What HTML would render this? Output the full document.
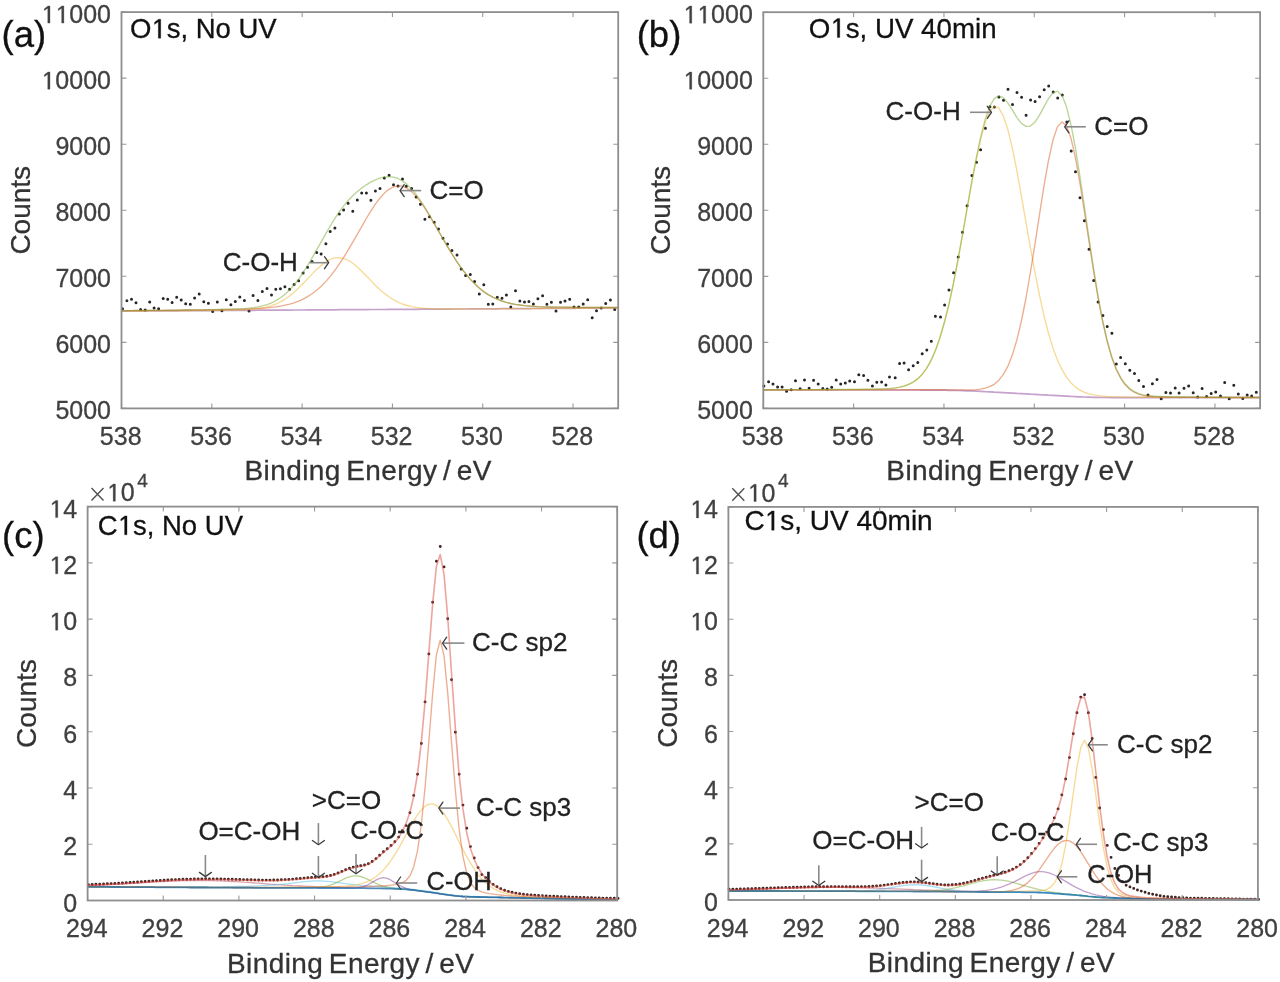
<!DOCTYPE html>
<html><head><meta charset="utf-8"><style>
html,body{margin:0;padding:0;background:#fff;}
svg{display:block;filter:blur(0.45px);}
text{font-family:"Liberation Sans",sans-serif;font-kerning:none;}
</style></head><body>
<svg width="1280" height="982" viewBox="0 0 1280 982" font-family="Liberation Sans, sans-serif">
<rect width="1280" height="982" fill="#fff"/>
<path d="M121.0 308.8a1.5 1.5 0 1 0 3.0 0a1.5 1.5 0 1 0 -3.0 0M125.4 300.7a1.5 1.5 0 1 0 3.0 0a1.5 1.5 0 1 0 -3.0 0M130.0 299.3a1.5 1.5 0 1 0 3.0 0a1.5 1.5 0 1 0 -3.0 0M134.5 302.8a1.5 1.5 0 1 0 3.0 0a1.5 1.5 0 1 0 -3.0 0M139.1 309.4a1.5 1.5 0 1 0 3.0 0a1.5 1.5 0 1 0 -3.0 0M143.7 309.9a1.5 1.5 0 1 0 3.0 0a1.5 1.5 0 1 0 -3.0 0M148.2 302.1a1.5 1.5 0 1 0 3.0 0a1.5 1.5 0 1 0 -3.0 0M152.6 308.1a1.5 1.5 0 1 0 3.0 0a1.5 1.5 0 1 0 -3.0 0M157.1 308.8a1.5 1.5 0 1 0 3.0 0a1.5 1.5 0 1 0 -3.0 0M161.7 298.6a1.5 1.5 0 1 0 3.0 0a1.5 1.5 0 1 0 -3.0 0M166.2 299.3a1.5 1.5 0 1 0 3.0 0a1.5 1.5 0 1 0 -3.0 0M170.6 302.5a1.5 1.5 0 1 0 3.0 0a1.5 1.5 0 1 0 -3.0 0M175.2 297.2a1.5 1.5 0 1 0 3.0 0a1.5 1.5 0 1 0 -3.0 0M179.7 300.0a1.5 1.5 0 1 0 3.0 0a1.5 1.5 0 1 0 -3.0 0M184.2 303.7a1.5 1.5 0 1 0 3.0 0a1.5 1.5 0 1 0 -3.0 0M188.8 304.3a1.5 1.5 0 1 0 3.0 0a1.5 1.5 0 1 0 -3.0 0M193.1 298.1a1.5 1.5 0 1 0 3.0 0a1.5 1.5 0 1 0 -3.0 0M197.7 293.9a1.5 1.5 0 1 0 3.0 0a1.5 1.5 0 1 0 -3.0 0M202.3 301.8a1.5 1.5 0 1 0 3.0 0a1.5 1.5 0 1 0 -3.0 0M206.9 303.3a1.5 1.5 0 1 0 3.0 0a1.5 1.5 0 1 0 -3.0 0M211.2 311.4a1.5 1.5 0 1 0 3.0 0a1.5 1.5 0 1 0 -3.0 0M215.8 302.0a1.5 1.5 0 1 0 3.0 0a1.5 1.5 0 1 0 -3.0 0M220.4 310.8a1.5 1.5 0 1 0 3.0 0a1.5 1.5 0 1 0 -3.0 0M224.8 299.8a1.5 1.5 0 1 0 3.0 0a1.5 1.5 0 1 0 -3.0 0M229.4 304.7a1.5 1.5 0 1 0 3.0 0a1.5 1.5 0 1 0 -3.0 0M233.8 301.5a1.5 1.5 0 1 0 3.0 0a1.5 1.5 0 1 0 -3.0 0M238.3 296.9a1.5 1.5 0 1 0 3.0 0a1.5 1.5 0 1 0 -3.0 0M242.9 300.5a1.5 1.5 0 1 0 3.0 0a1.5 1.5 0 1 0 -3.0 0M247.5 311.1a1.5 1.5 0 1 0 3.0 0a1.5 1.5 0 1 0 -3.0 0M251.6 295.6a1.5 1.5 0 1 0 3.0 0a1.5 1.5 0 1 0 -3.0 0M256.4 300.4a1.5 1.5 0 1 0 3.0 0a1.5 1.5 0 1 0 -3.0 0M260.8 291.5a1.5 1.5 0 1 0 3.0 0a1.5 1.5 0 1 0 -3.0 0M265.5 288.5a1.5 1.5 0 1 0 3.0 0a1.5 1.5 0 1 0 -3.0 0M270.0 295.0a1.5 1.5 0 1 0 3.0 0a1.5 1.5 0 1 0 -3.0 0M274.3 289.3a1.5 1.5 0 1 0 3.0 0a1.5 1.5 0 1 0 -3.0 0M278.9 288.7a1.5 1.5 0 1 0 3.0 0a1.5 1.5 0 1 0 -3.0 0M283.4 286.8a1.5 1.5 0 1 0 3.0 0a1.5 1.5 0 1 0 -3.0 0M288.1 289.3a1.5 1.5 0 1 0 3.0 0a1.5 1.5 0 1 0 -3.0 0M292.6 284.6a1.5 1.5 0 1 0 3.0 0a1.5 1.5 0 1 0 -3.0 0M297.1 280.7a1.5 1.5 0 1 0 3.0 0a1.5 1.5 0 1 0 -3.0 0M301.6 273.0a1.5 1.5 0 1 0 3.0 0a1.5 1.5 0 1 0 -3.0 0M306.0 267.3a1.5 1.5 0 1 0 3.0 0a1.5 1.5 0 1 0 -3.0 0M310.5 261.6a1.5 1.5 0 1 0 3.0 0a1.5 1.5 0 1 0 -3.0 0M315.2 252.6a1.5 1.5 0 1 0 3.0 0a1.5 1.5 0 1 0 -3.0 0M319.6 254.0a1.5 1.5 0 1 0 3.0 0a1.5 1.5 0 1 0 -3.0 0M324.4 243.7a1.5 1.5 0 1 0 3.0 0a1.5 1.5 0 1 0 -3.0 0M328.7 231.6a1.5 1.5 0 1 0 3.0 0a1.5 1.5 0 1 0 -3.0 0M333.4 227.9a1.5 1.5 0 1 0 3.0 0a1.5 1.5 0 1 0 -3.0 0M337.8 213.9a1.5 1.5 0 1 0 3.0 0a1.5 1.5 0 1 0 -3.0 0M342.1 210.0a1.5 1.5 0 1 0 3.0 0a1.5 1.5 0 1 0 -3.0 0M346.6 203.3a1.5 1.5 0 1 0 3.0 0a1.5 1.5 0 1 0 -3.0 0M351.3 211.2a1.5 1.5 0 1 0 3.0 0a1.5 1.5 0 1 0 -3.0 0M355.8 200.0a1.5 1.5 0 1 0 3.0 0a1.5 1.5 0 1 0 -3.0 0M360.2 193.1a1.5 1.5 0 1 0 3.0 0a1.5 1.5 0 1 0 -3.0 0M364.9 193.1a1.5 1.5 0 1 0 3.0 0a1.5 1.5 0 1 0 -3.0 0M369.4 200.3a1.5 1.5 0 1 0 3.0 0a1.5 1.5 0 1 0 -3.0 0M373.9 191.1a1.5 1.5 0 1 0 3.0 0a1.5 1.5 0 1 0 -3.0 0M378.5 188.6a1.5 1.5 0 1 0 3.0 0a1.5 1.5 0 1 0 -3.0 0M382.8 177.9a1.5 1.5 0 1 0 3.0 0a1.5 1.5 0 1 0 -3.0 0M387.6 175.2a1.5 1.5 0 1 0 3.0 0a1.5 1.5 0 1 0 -3.0 0M392.0 184.7a1.5 1.5 0 1 0 3.0 0a1.5 1.5 0 1 0 -3.0 0M396.5 186.0a1.5 1.5 0 1 0 3.0 0a1.5 1.5 0 1 0 -3.0 0M401.0 179.0a1.5 1.5 0 1 0 3.0 0a1.5 1.5 0 1 0 -3.0 0M404.8 186.3a1.5 1.5 0 1 0 3.0 0a1.5 1.5 0 1 0 -3.0 0M410.1 188.6a1.5 1.5 0 1 0 3.0 0a1.5 1.5 0 1 0 -3.0 0M414.6 197.1a1.5 1.5 0 1 0 3.0 0a1.5 1.5 0 1 0 -3.0 0M418.9 204.3a1.5 1.5 0 1 0 3.0 0a1.5 1.5 0 1 0 -3.0 0M423.4 219.2a1.5 1.5 0 1 0 3.0 0a1.5 1.5 0 1 0 -3.0 0M428.0 216.8a1.5 1.5 0 1 0 3.0 0a1.5 1.5 0 1 0 -3.0 0M432.7 222.3a1.5 1.5 0 1 0 3.0 0a1.5 1.5 0 1 0 -3.0 0M437.0 229.0a1.5 1.5 0 1 0 3.0 0a1.5 1.5 0 1 0 -3.0 0M441.5 238.3a1.5 1.5 0 1 0 3.0 0a1.5 1.5 0 1 0 -3.0 0M446.0 244.0a1.5 1.5 0 1 0 3.0 0a1.5 1.5 0 1 0 -3.0 0M450.4 250.6a1.5 1.5 0 1 0 3.0 0a1.5 1.5 0 1 0 -3.0 0M455.5 255.1a1.5 1.5 0 1 0 3.0 0a1.5 1.5 0 1 0 -3.0 0M459.7 269.1a1.5 1.5 0 1 0 3.0 0a1.5 1.5 0 1 0 -3.0 0M464.1 275.4a1.5 1.5 0 1 0 3.0 0a1.5 1.5 0 1 0 -3.0 0M468.8 274.6a1.5 1.5 0 1 0 3.0 0a1.5 1.5 0 1 0 -3.0 0M473.1 281.6a1.5 1.5 0 1 0 3.0 0a1.5 1.5 0 1 0 -3.0 0M477.8 293.9a1.5 1.5 0 1 0 3.0 0a1.5 1.5 0 1 0 -3.0 0M482.3 284.8a1.5 1.5 0 1 0 3.0 0a1.5 1.5 0 1 0 -3.0 0M486.8 304.3a1.5 1.5 0 1 0 3.0 0a1.5 1.5 0 1 0 -3.0 0M491.3 304.1a1.5 1.5 0 1 0 3.0 0a1.5 1.5 0 1 0 -3.0 0M495.8 297.3a1.5 1.5 0 1 0 3.0 0a1.5 1.5 0 1 0 -3.0 0M500.5 298.2a1.5 1.5 0 1 0 3.0 0a1.5 1.5 0 1 0 -3.0 0M504.9 294.9a1.5 1.5 0 1 0 3.0 0a1.5 1.5 0 1 0 -3.0 0M509.3 306.9a1.5 1.5 0 1 0 3.0 0a1.5 1.5 0 1 0 -3.0 0M514.0 290.8a1.5 1.5 0 1 0 3.0 0a1.5 1.5 0 1 0 -3.0 0M518.4 301.0a1.5 1.5 0 1 0 3.0 0a1.5 1.5 0 1 0 -3.0 0M523.0 302.0a1.5 1.5 0 1 0 3.0 0a1.5 1.5 0 1 0 -3.0 0M527.4 301.6a1.5 1.5 0 1 0 3.0 0a1.5 1.5 0 1 0 -3.0 0M531.9 303.9a1.5 1.5 0 1 0 3.0 0a1.5 1.5 0 1 0 -3.0 0M536.4 298.8a1.5 1.5 0 1 0 3.0 0a1.5 1.5 0 1 0 -3.0 0M541.1 295.7a1.5 1.5 0 1 0 3.0 0a1.5 1.5 0 1 0 -3.0 0M545.4 304.3a1.5 1.5 0 1 0 3.0 0a1.5 1.5 0 1 0 -3.0 0M549.9 302.2a1.5 1.5 0 1 0 3.0 0a1.5 1.5 0 1 0 -3.0 0M554.5 311.0a1.5 1.5 0 1 0 3.0 0a1.5 1.5 0 1 0 -3.0 0M559.0 302.2a1.5 1.5 0 1 0 3.0 0a1.5 1.5 0 1 0 -3.0 0M563.5 300.9a1.5 1.5 0 1 0 3.0 0a1.5 1.5 0 1 0 -3.0 0M568.2 299.2a1.5 1.5 0 1 0 3.0 0a1.5 1.5 0 1 0 -3.0 0M572.5 306.9a1.5 1.5 0 1 0 3.0 0a1.5 1.5 0 1 0 -3.0 0M577.2 307.1a1.5 1.5 0 1 0 3.0 0a1.5 1.5 0 1 0 -3.0 0M581.7 304.1a1.5 1.5 0 1 0 3.0 0a1.5 1.5 0 1 0 -3.0 0M586.2 299.7a1.5 1.5 0 1 0 3.0 0a1.5 1.5 0 1 0 -3.0 0M590.7 317.8a1.5 1.5 0 1 0 3.0 0a1.5 1.5 0 1 0 -3.0 0M595.0 310.8a1.5 1.5 0 1 0 3.0 0a1.5 1.5 0 1 0 -3.0 0M599.7 308.0a1.5 1.5 0 1 0 3.0 0a1.5 1.5 0 1 0 -3.0 0M604.2 303.6a1.5 1.5 0 1 0 3.0 0a1.5 1.5 0 1 0 -3.0 0M608.9 299.9a1.5 1.5 0 1 0 3.0 0a1.5 1.5 0 1 0 -3.0 0M613.2 309.5a1.5 1.5 0 1 0 3.0 0a1.5 1.5 0 1 0 -3.0 0" fill="#262626"/>
<path d="M121.5 311.1L122.5 311.1L127.0 311.1L131.5 311.0L136.0 311.0L140.6 311.0L145.1 311.0L149.6 310.9L154.1 310.9L158.6 310.9L163.1 310.8L167.7 310.8L172.2 310.8L176.7 310.8L181.2 310.7L185.7 310.7L190.2 310.7L194.7 310.6L199.3 310.6L203.8 310.6L208.3 310.6L212.8 310.5L217.3 310.5L221.8 310.5L226.3 310.4L230.9 310.4L235.4 310.4L239.9 310.4L244.4 310.3L248.9 310.3L253.4 310.3L257.9 310.2L262.5 310.2L267.0 310.2L271.5 310.2L276.0 310.1L280.5 310.1L285.0 310.1L289.6 310.1L294.1 310.0L298.6 310.0L303.1 310.0L307.6 309.9L312.1 309.9L316.6 309.9L321.2 309.9L325.7 309.8L330.2 309.8L334.7 309.8L339.2 309.7L343.7 309.7L348.2 309.7L352.8 309.7L357.3 309.6L361.8 309.6L366.3 309.6L370.8 309.5L375.3 309.5L379.9 309.5L384.4 309.5L388.9 309.4L393.4 309.4L397.9 309.4L402.4 309.3L406.9 309.3L411.5 309.3L416.0 309.3L420.5 309.2L425.0 309.2L429.5 309.2L434.0 309.1L438.5 309.1L443.1 309.1L447.6 309.1L452.1 309.0L456.6 309.0L461.1 309.0L465.6 309.0L470.2 308.9L474.7 308.9L479.2 308.9L483.7 308.8L488.2 308.8L492.7 308.8L497.2 308.8L501.8 308.7L506.3 308.7L510.8 308.7L515.3 308.6L519.8 308.6L524.3 308.6L528.8 308.6L533.4 308.5L537.9 308.5L542.4 308.5L546.9 308.4L551.4 308.4L555.9 308.4L560.5 308.4L565.0 308.3L569.5 308.3L574.0 308.3L578.5 308.2L583.0 308.2L587.5 308.2L592.1 308.2L596.6 308.1L601.1 308.1L605.6 308.1L610.1 308.1L614.6 308.0L618.2 308.0" stroke="#7E2F8E" stroke-opacity="0.45" stroke-width="1.7" fill="none" stroke-linejoin="round"/>
<path d="M121.5 311.1L122.5 311.1L127.0 311.1L131.5 311.0L136.0 311.0L140.6 311.0L145.1 311.0L149.6 310.9L154.1 310.9L158.6 310.9L163.1 310.8L167.7 310.8L172.2 310.8L176.7 310.8L181.2 310.7L185.7 310.7L190.2 310.7L194.7 310.6L199.3 310.6L203.8 310.6L208.3 310.6L212.8 310.5L217.3 310.5L221.8 310.4L226.3 310.4L230.9 310.3L235.4 310.2L239.9 310.1L244.4 309.9L248.9 309.7L253.4 309.3L257.9 308.8L262.5 308.0L267.0 307.0L271.5 305.7L276.0 304.0L280.5 301.8L285.0 299.2L289.6 296.0L294.1 292.3L298.6 288.1L303.1 283.6L307.6 278.9L312.1 274.1L316.6 269.5L321.2 265.4L325.7 262.0L330.2 259.4L334.7 257.9L339.2 257.6L343.7 258.4L348.2 260.3L352.8 263.2L357.3 266.9L361.8 271.2L366.3 275.8L370.8 280.6L375.3 285.2L379.9 289.5L384.4 293.4L388.9 296.8L393.4 299.7L397.9 302.1L402.4 304.0L406.9 305.5L411.5 306.6L416.0 307.4L420.5 308.0L425.0 308.4L429.5 308.7L434.0 308.8L438.5 308.9L443.1 309.0L447.6 309.0L452.1 309.0L456.6 309.0L461.1 309.0L465.6 308.9L470.2 308.9L474.7 308.9L479.2 308.9L483.7 308.8L488.2 308.8L492.7 308.8L497.2 308.8L501.8 308.7L506.3 308.7L510.8 308.7L515.3 308.6L519.8 308.6L524.3 308.6L528.8 308.6L533.4 308.5L537.9 308.5L542.4 308.5L546.9 308.4L551.4 308.4L555.9 308.4L560.5 308.4L565.0 308.3L569.5 308.3L574.0 308.3L578.5 308.2L583.0 308.2L587.5 308.2L592.1 308.2L596.6 308.1L601.1 308.1L605.6 308.1L610.1 308.1L614.6 308.0L618.2 308.0" stroke="#EDB120" stroke-opacity="0.47" stroke-width="1.35" fill="none" stroke-linejoin="round"/>
<path d="M121.5 310.7L122.5 310.7L127.0 310.6L131.5 310.6L136.0 310.5L140.6 310.5L145.1 310.5L149.6 310.4L154.1 310.4L158.6 310.3L163.1 310.3L167.7 310.2L172.2 310.2L176.7 310.1L181.2 310.1L185.7 310.0L190.2 310.0L194.7 309.9L199.3 309.8L203.8 309.8L208.3 309.7L212.8 309.6L217.3 309.6L221.8 309.5L226.3 309.4L230.9 309.3L235.4 309.2L239.9 309.1L244.4 309.0L248.9 308.8L253.4 308.6L257.9 308.4L262.5 308.1L267.0 307.8L271.5 307.3L276.0 306.8L280.5 306.1L285.0 305.2L289.6 304.1L294.1 302.8L298.6 301.1L303.1 299.1L307.6 296.6L312.1 293.7L316.6 290.2L321.2 286.2L325.7 281.6L330.2 276.4L334.7 270.6L339.2 264.2L343.7 257.3L348.2 249.9L352.8 242.2L357.3 234.3L361.8 226.3L366.3 218.5L370.8 211.1L375.3 204.2L379.9 198.2L384.4 193.1L388.9 189.3L393.4 186.8L397.9 185.8L402.4 186.2L406.9 188.2L411.5 191.6L416.0 196.2L420.5 201.9L425.0 208.4L429.5 215.7L434.0 223.3L438.5 231.2L443.1 239.0L447.6 246.8L452.1 254.2L456.6 261.3L461.1 267.8L465.6 273.7L470.2 279.1L474.7 283.8L479.2 288.0L483.7 291.6L488.2 294.6L492.7 297.1L497.2 299.2L501.8 301.0L506.3 302.4L510.8 303.5L515.3 304.4L519.8 305.0L524.3 305.6L528.8 306.0L533.4 306.3L537.9 306.6L542.4 306.8L546.9 306.9L551.4 307.0L555.9 307.1L560.5 307.1L565.0 307.2L569.5 307.2L574.0 307.3L578.5 307.3L583.0 307.3L587.5 307.3L592.1 307.3L596.6 307.3L601.1 307.3L605.6 307.4L610.1 307.4L614.6 307.4L618.2 307.3" stroke="#D95319" stroke-opacity="0.48" stroke-width="1.35" fill="none" stroke-linejoin="round"/>
<path d="M121.5 310.7L122.5 310.7L127.0 310.6L131.5 310.6L136.0 310.5L140.6 310.5L145.1 310.5L149.6 310.4L154.1 310.4L158.6 310.3L163.1 310.3L167.7 310.2L172.2 310.2L176.7 310.1L181.2 310.1L185.7 310.0L190.2 310.0L194.7 309.9L199.3 309.8L203.8 309.8L208.3 309.7L212.8 309.6L217.3 309.5L221.8 309.5L226.3 309.3L230.9 309.2L235.4 309.1L239.9 308.8L244.4 308.6L248.9 308.2L253.4 307.6L257.9 306.9L262.5 305.9L267.0 304.6L271.5 302.9L276.0 300.6L280.5 297.8L285.0 294.3L289.6 290.0L294.1 285.0L298.6 279.2L303.1 272.7L307.6 265.5L312.1 257.9L316.6 249.9L321.2 241.8L325.7 233.8L330.2 226.0L334.7 218.7L339.2 212.0L343.7 205.9L348.2 200.5L352.8 195.7L357.3 191.6L361.8 187.9L366.3 184.8L370.8 182.1L375.3 179.9L379.9 178.2L384.4 177.1L388.9 176.7L393.4 177.1L397.9 178.5L402.4 180.9L406.9 184.4L411.5 188.9L416.0 194.3L420.5 200.7L425.0 207.6L429.5 215.1L434.0 223.0L438.5 231.0L443.1 238.9L447.6 246.7L452.1 254.2L456.6 261.2L461.1 267.8L465.6 273.7L470.2 279.1L474.7 283.8L479.2 288.0L483.7 291.6L488.2 294.6L492.7 297.1L497.2 299.2L501.8 301.0L506.3 302.4L510.8 303.5L515.3 304.4L519.8 305.0L524.3 305.6L528.8 306.0L533.4 306.3L537.9 306.6L542.4 306.8L546.9 306.9L551.4 307.0L555.9 307.1L560.5 307.1L565.0 307.2L569.5 307.2L574.0 307.3L578.5 307.3L583.0 307.3L587.5 307.3L592.1 307.3L596.6 307.3L601.1 307.3L605.6 307.4L610.1 307.4L614.6 307.4L618.2 307.3" stroke="#77AC30" stroke-opacity="0.5" stroke-width="1.35" fill="none" stroke-linejoin="round"/>
<text x="130.00" y="38.20" font-size="27.5" fill="#111" stroke="#111" stroke-width="0.3">O s, No UV</text><path transform="translate(151.39,38.20) scale(0.013428,-0.013428)" d="M515 0L515 1220L235 1025L235 1185L530 1409L696 1409L696 0Z" fill="#111" stroke="#111" stroke-width="22.3"/>
<text x="222.80" y="270.50" font-size="26" fill="#222" text-anchor="start" stroke="#222" stroke-width="0.3">C-O-H</text>
<path d="M309.5 262.7L327.9 262.7" stroke="#8a8a8a" stroke-width="1.6" fill="none"/><path d="M324.5 268.7Q326.8 265.4 328.7 262.7Q326.8 260.0 324.5 256.7" stroke="#3c3c3c" stroke-width="1.3" fill="none" stroke-linecap="round" stroke-linejoin="round"/>
<text x="429.60" y="198.60" font-size="26" fill="#222" text-anchor="start" stroke="#222" stroke-width="0.3">C=O</text>
<path d="M421.2 190.6L400.8 190.6" stroke="#8a8a8a" stroke-width="1.6" fill="none"/><path d="M404.2 184.6Q401.9 187.9 400.0 190.6Q401.9 193.3 404.2 196.6" stroke="#3c3c3c" stroke-width="1.3" fill="none" stroke-linecap="round" stroke-linejoin="round"/>
<path d="M762.4 385.9a1.5 1.5 0 1 0 3.0 0a1.5 1.5 0 1 0 -3.0 0M767.1 381.8a1.5 1.5 0 1 0 3.0 0a1.5 1.5 0 1 0 -3.0 0M771.5 384.1a1.5 1.5 0 1 0 3.0 0a1.5 1.5 0 1 0 -3.0 0M776.1 386.9a1.5 1.5 0 1 0 3.0 0a1.5 1.5 0 1 0 -3.0 0M780.6 386.9a1.5 1.5 0 1 0 3.0 0a1.5 1.5 0 1 0 -3.0 0M785.1 391.3a1.5 1.5 0 1 0 3.0 0a1.5 1.5 0 1 0 -3.0 0M789.7 389.7a1.5 1.5 0 1 0 3.0 0a1.5 1.5 0 1 0 -3.0 0M794.0 380.8a1.5 1.5 0 1 0 3.0 0a1.5 1.5 0 1 0 -3.0 0M798.6 388.7a1.5 1.5 0 1 0 3.0 0a1.5 1.5 0 1 0 -3.0 0M803.0 380.1a1.5 1.5 0 1 0 3.0 0a1.5 1.5 0 1 0 -3.0 0M807.6 388.2a1.5 1.5 0 1 0 3.0 0a1.5 1.5 0 1 0 -3.0 0M812.1 380.3a1.5 1.5 0 1 0 3.0 0a1.5 1.5 0 1 0 -3.0 0M816.7 384.1a1.5 1.5 0 1 0 3.0 0a1.5 1.5 0 1 0 -3.0 0M821.3 388.4a1.5 1.5 0 1 0 3.0 0a1.5 1.5 0 1 0 -3.0 0M825.7 389.1a1.5 1.5 0 1 0 3.0 0a1.5 1.5 0 1 0 -3.0 0M830.2 387.2a1.5 1.5 0 1 0 3.0 0a1.5 1.5 0 1 0 -3.0 0M834.7 380.1a1.5 1.5 0 1 0 3.0 0a1.5 1.5 0 1 0 -3.0 0M839.2 384.1a1.5 1.5 0 1 0 3.0 0a1.5 1.5 0 1 0 -3.0 0M843.8 382.9a1.5 1.5 0 1 0 3.0 0a1.5 1.5 0 1 0 -3.0 0M848.2 381.0a1.5 1.5 0 1 0 3.0 0a1.5 1.5 0 1 0 -3.0 0M853.0 381.8a1.5 1.5 0 1 0 3.0 0a1.5 1.5 0 1 0 -3.0 0M857.3 374.7a1.5 1.5 0 1 0 3.0 0a1.5 1.5 0 1 0 -3.0 0M862.1 375.4a1.5 1.5 0 1 0 3.0 0a1.5 1.5 0 1 0 -3.0 0M866.4 380.3a1.5 1.5 0 1 0 3.0 0a1.5 1.5 0 1 0 -3.0 0M870.9 385.9a1.5 1.5 0 1 0 3.0 0a1.5 1.5 0 1 0 -3.0 0M875.3 382.3a1.5 1.5 0 1 0 3.0 0a1.5 1.5 0 1 0 -3.0 0M880.1 382.1a1.5 1.5 0 1 0 3.0 0a1.5 1.5 0 1 0 -3.0 0M884.4 384.9a1.5 1.5 0 1 0 3.0 0a1.5 1.5 0 1 0 -3.0 0M888.0 377.1a1.5 1.5 0 1 0 3.0 0a1.5 1.5 0 1 0 -3.0 0M893.7 377.7a1.5 1.5 0 1 0 3.0 0a1.5 1.5 0 1 0 -3.0 0M898.1 363.6a1.5 1.5 0 1 0 3.0 0a1.5 1.5 0 1 0 -3.0 0M902.6 363.1a1.5 1.5 0 1 0 3.0 0a1.5 1.5 0 1 0 -3.0 0M907.1 369.8a1.5 1.5 0 1 0 3.0 0a1.5 1.5 0 1 0 -3.0 0M911.7 365.7a1.5 1.5 0 1 0 3.0 0a1.5 1.5 0 1 0 -3.0 0M916.3 362.6a1.5 1.5 0 1 0 3.0 0a1.5 1.5 0 1 0 -3.0 0M920.7 353.7a1.5 1.5 0 1 0 3.0 0a1.5 1.5 0 1 0 -3.0 0M925.3 349.9a1.5 1.5 0 1 0 3.0 0a1.5 1.5 0 1 0 -3.0 0M929.8 341.2a1.5 1.5 0 1 0 3.0 0a1.5 1.5 0 1 0 -3.0 0M933.9 316.3a1.5 1.5 0 1 0 3.0 0a1.5 1.5 0 1 0 -3.0 0M939.0 317.1a1.5 1.5 0 1 0 3.0 0a1.5 1.5 0 1 0 -3.0 0M943.1 304.9a1.5 1.5 0 1 0 3.0 0a1.5 1.5 0 1 0 -3.0 0M947.5 290.1a1.5 1.5 0 1 0 3.0 0a1.5 1.5 0 1 0 -3.0 0M952.1 272.7a1.5 1.5 0 1 0 3.0 0a1.5 1.5 0 1 0 -3.0 0M956.7 257.1a1.5 1.5 0 1 0 3.0 0a1.5 1.5 0 1 0 -3.0 0M961.0 232.2a1.5 1.5 0 1 0 3.0 0a1.5 1.5 0 1 0 -3.0 0M965.6 205.8a1.5 1.5 0 1 0 3.0 0a1.5 1.5 0 1 0 -3.0 0M970.4 175.6a1.5 1.5 0 1 0 3.0 0a1.5 1.5 0 1 0 -3.0 0M975.0 162.3a1.5 1.5 0 1 0 3.0 0a1.5 1.5 0 1 0 -3.0 0M979.1 149.7a1.5 1.5 0 1 0 3.0 0a1.5 1.5 0 1 0 -3.0 0M983.9 128.2a1.5 1.5 0 1 0 3.0 0a1.5 1.5 0 1 0 -3.0 0M988.4 106.7a1.5 1.5 0 1 0 3.0 0a1.5 1.5 0 1 0 -3.0 0M992.9 106.9a1.5 1.5 0 1 0 3.0 0a1.5 1.5 0 1 0 -3.0 0M997.4 97.0a1.5 1.5 0 1 0 3.0 0a1.5 1.5 0 1 0 -3.0 0M1002.0 100.2a1.5 1.5 0 1 0 3.0 0a1.5 1.5 0 1 0 -3.0 0M1006.5 89.3a1.5 1.5 0 1 0 3.0 0a1.5 1.5 0 1 0 -3.0 0M1011.0 104.4a1.5 1.5 0 1 0 3.0 0a1.5 1.5 0 1 0 -3.0 0M1015.5 92.4a1.5 1.5 0 1 0 3.0 0a1.5 1.5 0 1 0 -3.0 0M1020.1 97.2a1.5 1.5 0 1 0 3.0 0a1.5 1.5 0 1 0 -3.0 0M1024.6 115.3a1.5 1.5 0 1 0 3.0 0a1.5 1.5 0 1 0 -3.0 0M1029.1 100.0a1.5 1.5 0 1 0 3.0 0a1.5 1.5 0 1 0 -3.0 0M1033.6 101.6a1.5 1.5 0 1 0 3.0 0a1.5 1.5 0 1 0 -3.0 0M1038.1 96.7a1.5 1.5 0 1 0 3.0 0a1.5 1.5 0 1 0 -3.0 0M1042.7 89.7a1.5 1.5 0 1 0 3.0 0a1.5 1.5 0 1 0 -3.0 0M1047.2 86.1a1.5 1.5 0 1 0 3.0 0a1.5 1.5 0 1 0 -3.0 0M1051.7 91.9a1.5 1.5 0 1 0 3.0 0a1.5 1.5 0 1 0 -3.0 0M1056.2 98.0a1.5 1.5 0 1 0 3.0 0a1.5 1.5 0 1 0 -3.0 0M1060.8 94.9a1.5 1.5 0 1 0 3.0 0a1.5 1.5 0 1 0 -3.0 0M1065.3 121.9a1.5 1.5 0 1 0 3.0 0a1.5 1.5 0 1 0 -3.0 0M1069.7 151.1a1.5 1.5 0 1 0 3.0 0a1.5 1.5 0 1 0 -3.0 0M1074.0 171.8a1.5 1.5 0 1 0 3.0 0a1.5 1.5 0 1 0 -3.0 0M1078.5 197.8a1.5 1.5 0 1 0 3.0 0a1.5 1.5 0 1 0 -3.0 0M1082.9 220.7a1.5 1.5 0 1 0 3.0 0a1.5 1.5 0 1 0 -3.0 0M1087.5 249.2a1.5 1.5 0 1 0 3.0 0a1.5 1.5 0 1 0 -3.0 0M1092.2 280.4a1.5 1.5 0 1 0 3.0 0a1.5 1.5 0 1 0 -3.0 0M1096.6 302.1a1.5 1.5 0 1 0 3.0 0a1.5 1.5 0 1 0 -3.0 0M1101.4 315.6a1.5 1.5 0 1 0 3.0 0a1.5 1.5 0 1 0 -3.0 0M1105.7 326.4a1.5 1.5 0 1 0 3.0 0a1.5 1.5 0 1 0 -3.0 0M1110.4 333.2a1.5 1.5 0 1 0 3.0 0a1.5 1.5 0 1 0 -3.0 0M1114.8 364.0a1.5 1.5 0 1 0 3.0 0a1.5 1.5 0 1 0 -3.0 0M1119.1 357.6a1.5 1.5 0 1 0 3.0 0a1.5 1.5 0 1 0 -3.0 0M1123.8 363.8a1.5 1.5 0 1 0 3.0 0a1.5 1.5 0 1 0 -3.0 0M1128.3 370.2a1.5 1.5 0 1 0 3.0 0a1.5 1.5 0 1 0 -3.0 0M1133.0 373.5a1.5 1.5 0 1 0 3.0 0a1.5 1.5 0 1 0 -3.0 0M1137.3 380.5a1.5 1.5 0 1 0 3.0 0a1.5 1.5 0 1 0 -3.0 0M1142.0 386.6a1.5 1.5 0 1 0 3.0 0a1.5 1.5 0 1 0 -3.0 0M1146.5 395.0a1.5 1.5 0 1 0 3.0 0a1.5 1.5 0 1 0 -3.0 0M1150.9 383.8a1.5 1.5 0 1 0 3.0 0a1.5 1.5 0 1 0 -3.0 0M1155.5 379.4a1.5 1.5 0 1 0 3.0 0a1.5 1.5 0 1 0 -3.0 0M1159.7 398.7a1.5 1.5 0 1 0 3.0 0a1.5 1.5 0 1 0 -3.0 0M1164.4 392.6a1.5 1.5 0 1 0 3.0 0a1.5 1.5 0 1 0 -3.0 0M1169.0 392.9a1.5 1.5 0 1 0 3.0 0a1.5 1.5 0 1 0 -3.0 0M1173.7 387.9a1.5 1.5 0 1 0 3.0 0a1.5 1.5 0 1 0 -3.0 0M1177.6 392.9a1.5 1.5 0 1 0 3.0 0a1.5 1.5 0 1 0 -3.0 0M1182.5 388.2a1.5 1.5 0 1 0 3.0 0a1.5 1.5 0 1 0 -3.0 0M1187.1 386.0a1.5 1.5 0 1 0 3.0 0a1.5 1.5 0 1 0 -3.0 0M1191.7 392.7a1.5 1.5 0 1 0 3.0 0a1.5 1.5 0 1 0 -3.0 0M1196.2 397.1a1.5 1.5 0 1 0 3.0 0a1.5 1.5 0 1 0 -3.0 0M1200.6 388.6a1.5 1.5 0 1 0 3.0 0a1.5 1.5 0 1 0 -3.0 0M1205.1 396.4a1.5 1.5 0 1 0 3.0 0a1.5 1.5 0 1 0 -3.0 0M1209.7 393.6a1.5 1.5 0 1 0 3.0 0a1.5 1.5 0 1 0 -3.0 0M1214.2 391.9a1.5 1.5 0 1 0 3.0 0a1.5 1.5 0 1 0 -3.0 0M1219.0 395.9a1.5 1.5 0 1 0 3.0 0a1.5 1.5 0 1 0 -3.0 0M1223.2 382.5a1.5 1.5 0 1 0 3.0 0a1.5 1.5 0 1 0 -3.0 0M1227.7 398.8a1.5 1.5 0 1 0 3.0 0a1.5 1.5 0 1 0 -3.0 0M1232.3 385.2a1.5 1.5 0 1 0 3.0 0a1.5 1.5 0 1 0 -3.0 0M1236.8 393.9a1.5 1.5 0 1 0 3.0 0a1.5 1.5 0 1 0 -3.0 0M1241.3 398.4a1.5 1.5 0 1 0 3.0 0a1.5 1.5 0 1 0 -3.0 0M1245.7 394.9a1.5 1.5 0 1 0 3.0 0a1.5 1.5 0 1 0 -3.0 0M1250.2 395.9a1.5 1.5 0 1 0 3.0 0a1.5 1.5 0 1 0 -3.0 0M1254.8 392.3a1.5 1.5 0 1 0 3.0 0a1.5 1.5 0 1 0 -3.0 0" fill="#262626"/>
<path d="M763.3 390.0L763.9 390.0L768.4 390.0L772.9 390.0L777.4 390.0L782.0 390.0L786.5 390.0L791.0 390.0L795.5 390.0L800.0 390.0L804.5 390.0L809.1 390.0L813.6 390.0L818.1 390.0L822.6 390.0L827.1 390.0L831.6 390.0L836.2 390.0L840.7 390.0L845.2 390.0L849.7 390.0L854.2 390.0L858.7 390.0L863.3 390.0L867.8 390.0L872.3 390.0L876.8 390.0L881.3 390.0L885.8 390.0L890.3 390.0L894.9 390.0L899.4 390.0L903.9 390.0L908.4 390.0L912.9 390.0L917.4 390.0L922.0 390.1L926.5 390.1L931.0 390.1L935.5 390.1L940.0 390.2L944.5 390.2L949.1 390.3L953.6 390.4L958.1 390.5L962.6 390.6L967.1 390.8L971.6 390.9L976.2 391.1L980.7 391.3L985.2 391.6L989.7 391.8L994.2 392.1L998.7 392.3L1003.2 392.6L1007.8 392.9L1012.3 393.1L1016.8 393.4L1021.3 393.6L1025.8 393.8L1030.3 394.1L1034.9 394.3L1039.4 394.6L1043.9 394.8L1048.4 395.1L1052.9 395.3L1057.4 395.6L1062.0 395.9L1066.5 396.1L1071.0 396.4L1075.5 396.6L1080.0 396.8L1084.5 397.0L1089.1 397.2L1093.6 397.3L1098.1 397.4L1102.6 397.5L1107.1 397.5L1111.6 397.6L1116.1 397.6L1120.7 397.6L1125.2 397.6L1129.7 397.7L1134.2 397.7L1138.7 397.7L1143.2 397.7L1147.8 397.7L1152.3 397.7L1156.8 397.7L1161.3 397.7L1165.8 397.7L1170.3 397.7L1174.9 397.7L1179.4 397.7L1183.9 397.7L1188.4 397.7L1192.9 397.7L1197.4 397.7L1202.0 397.7L1206.5 397.7L1211.0 397.7L1215.5 397.7L1220.0 397.7L1224.5 397.7L1229.0 397.7L1233.6 397.7L1238.1 397.7L1242.6 397.7L1247.1 397.7L1251.6 397.7L1256.1 397.7L1260.1 397.7" stroke="#7E2F8E" stroke-opacity="0.45" stroke-width="1.7" fill="none" stroke-linejoin="round"/>
<path d="M763.3 389.8L763.9 389.8L768.4 389.8L772.9 389.8L777.4 389.8L782.0 389.8L786.5 389.8L791.0 389.8L795.5 389.7L800.0 389.7L804.5 389.7L809.1 389.7L813.6 389.7L818.1 389.7L822.6 389.7L827.1 389.6L831.6 389.6L836.2 389.6L840.7 389.6L845.2 389.6L849.7 389.5L854.2 389.5L858.7 389.5L863.3 389.4L867.8 389.4L872.3 389.3L876.8 389.2L881.3 389.1L885.8 388.9L890.3 388.6L894.9 388.1L899.4 387.4L903.9 386.3L908.4 384.7L912.9 382.5L917.4 379.2L922.0 374.8L926.5 368.7L931.0 360.8L935.5 350.6L940.0 337.8L944.5 322.3L949.1 303.9L953.6 282.9L958.1 259.6L962.6 234.6L967.1 208.9L971.6 183.6L976.2 159.9L980.7 139.2L985.2 122.6L989.7 111.5L994.2 106.4L998.7 107.8L1003.2 115.7L1007.8 129.3L1012.3 148.0L1016.8 170.4L1021.3 195.3L1025.8 221.3L1030.3 247.2L1034.9 272.0L1039.4 294.9L1043.9 315.3L1048.4 333.0L1052.9 347.9L1057.4 360.0L1062.0 369.7L1066.5 377.2L1071.0 382.9L1075.5 387.1L1080.0 390.2L1084.5 392.4L1089.1 393.9L1093.6 394.9L1098.1 395.7L1102.6 396.1L1107.1 396.5L1111.6 396.7L1116.1 396.8L1120.7 396.9L1125.2 397.0L1129.7 397.1L1134.2 397.1L1138.7 397.2L1143.2 397.2L1147.8 397.2L1152.3 397.3L1156.8 397.3L1161.3 397.3L1165.8 397.3L1170.3 397.3L1174.9 397.4L1179.4 397.4L1183.9 397.4L1188.4 397.4L1192.9 397.4L1197.4 397.4L1202.0 397.4L1206.5 397.5L1211.0 397.5L1215.5 397.5L1220.0 397.5L1224.5 397.5L1229.0 397.5L1233.6 397.5L1238.1 397.5L1242.6 397.5L1247.1 397.5L1251.6 397.5L1256.1 397.5L1260.1 397.5" stroke="#EDB120" stroke-opacity="0.47" stroke-width="1.35" fill="none" stroke-linejoin="round"/>
<path d="M763.3 389.9L763.9 389.9L768.4 389.9L772.9 389.9L777.4 389.9L782.0 389.9L786.5 389.9L791.0 389.9L795.5 389.9L800.0 389.9L804.5 389.9L809.1 389.9L813.6 389.9L818.1 389.9L822.6 389.9L827.1 389.9L831.6 389.9L836.2 389.9L840.7 389.9L845.2 389.9L849.7 389.9L854.2 389.8L858.7 389.8L863.3 389.8L867.8 389.8L872.3 389.8L876.8 389.8L881.3 389.8L885.8 389.8L890.3 389.8L894.9 389.8L899.4 389.8L903.9 389.7L908.4 389.7L912.9 389.7L917.4 389.7L922.0 389.7L926.5 389.7L931.0 389.7L935.5 389.7L940.0 389.7L944.5 389.7L949.1 389.8L953.6 389.8L958.1 389.8L962.6 389.9L967.1 389.8L971.6 389.8L976.2 389.6L980.7 389.1L985.2 388.2L989.7 386.7L994.2 384.3L998.7 380.4L1003.2 374.6L1007.8 366.4L1012.3 355.1L1016.8 340.2L1021.3 321.5L1025.8 299.0L1030.3 273.0L1034.9 244.6L1039.4 215.1L1043.9 186.4L1048.4 160.8L1052.9 140.3L1057.4 126.9L1062.0 121.9L1066.5 125.8L1071.0 138.3L1075.5 158.2L1080.0 183.5L1084.5 212.2L1089.1 242.1L1093.6 271.2L1098.1 298.1L1102.6 321.6L1107.1 341.3L1111.6 357.1L1116.1 369.3L1120.7 378.3L1125.2 384.8L1129.7 389.2L1134.2 392.2L1138.7 394.1L1143.2 395.3L1147.8 396.0L1152.3 396.5L1156.8 396.7L1161.3 396.9L1165.8 397.0L1170.3 397.1L1174.9 397.1L1179.4 397.2L1183.9 397.2L1188.4 397.3L1192.9 397.3L1197.4 397.3L1202.0 397.3L1206.5 397.4L1211.0 397.4L1215.5 397.4L1220.0 397.4L1224.5 397.4L1229.0 397.4L1233.6 397.5L1238.1 397.5L1242.6 397.5L1247.1 397.5L1251.6 397.5L1256.1 397.5L1260.1 397.5" stroke="#D95319" stroke-opacity="0.48" stroke-width="1.35" fill="none" stroke-linejoin="round"/>
<path d="M763.3 389.7L763.9 389.7L768.4 389.7L772.9 389.7L777.4 389.7L782.0 389.7L786.5 389.7L791.0 389.7L795.5 389.6L800.0 389.6L804.5 389.6L809.1 389.6L813.6 389.6L818.1 389.6L822.6 389.5L827.1 389.5L831.6 389.5L836.2 389.5L840.7 389.4L845.2 389.4L849.7 389.4L854.2 389.3L858.7 389.3L863.3 389.2L867.8 389.2L872.3 389.1L876.8 389.0L881.3 388.9L885.8 388.6L890.3 388.3L894.9 387.8L899.4 387.1L903.9 386.0L908.4 384.4L912.9 382.1L917.4 378.9L922.0 374.4L926.5 368.4L931.0 360.4L935.5 350.2L940.0 337.3L944.5 321.8L949.1 303.4L953.6 282.3L958.1 258.9L962.6 233.9L967.1 208.0L971.6 182.4L976.2 158.3L980.7 136.9L985.2 119.3L989.7 106.4L994.2 98.6L998.7 95.9L1003.2 97.7L1007.8 102.9L1012.3 109.9L1016.8 117.3L1021.3 123.2L1025.8 126.4L1030.3 126.1L1034.9 122.2L1039.4 115.4L1043.9 106.9L1048.4 98.7L1052.9 92.8L1057.4 91.2L1062.0 95.6L1066.5 106.8L1071.0 124.8L1075.5 148.6L1080.0 176.9L1084.5 207.6L1089.1 238.8L1093.6 268.9L1098.1 296.3L1102.6 320.3L1107.1 340.2L1111.6 356.2L1116.1 368.5L1120.7 377.6L1125.2 384.1L1129.7 388.6L1134.2 391.6L1138.7 393.6L1143.2 394.8L1147.8 395.6L1152.3 396.0L1156.8 396.3L1161.3 396.5L1165.8 396.7L1170.3 396.7L1174.9 396.8L1179.4 396.9L1183.9 396.9L1188.4 397.0L1192.9 397.0L1197.4 397.1L1202.0 397.1L1206.5 397.1L1211.0 397.1L1215.5 397.2L1220.0 397.2L1224.5 397.2L1229.0 397.2L1233.6 397.3L1238.1 397.3L1242.6 397.3L1247.1 397.3L1251.6 397.3L1256.1 397.3L1260.1 397.4" stroke="#77AC30" stroke-opacity="0.5" stroke-width="1.35" fill="none" stroke-linejoin="round"/>
<text x="808.80" y="37.50" font-size="27.7" fill="#111" stroke="#111" stroke-width="0.3">O s, UV 40min</text><path transform="translate(830.35,37.50) scale(0.013525,-0.013525)" d="M515 0L515 1220L235 1025L235 1185L530 1409L696 1409L696 0Z" fill="#111" stroke="#111" stroke-width="22.2"/>
<text x="885.60" y="119.80" font-size="26" fill="#222" text-anchor="start" stroke="#222" stroke-width="0.3">C-O-H</text>
<path d="M970.0 112.3L990.7 112.3" stroke="#8a8a8a" stroke-width="1.6" fill="none"/><path d="M987.3 118.3Q989.6 115.0 991.5 112.3Q989.6 109.6 987.3 106.3" stroke="#3c3c3c" stroke-width="1.3" fill="none" stroke-linecap="round" stroke-linejoin="round"/>
<text x="1094.20" y="134.60" font-size="26" fill="#222" text-anchor="start" stroke="#222" stroke-width="0.3">C=O</text>
<path d="M1085.8 126.8L1065.5 126.8" stroke="#8a8a8a" stroke-width="1.6" fill="none"/><path d="M1068.9 120.8Q1066.6 124.1 1064.7 126.8Q1066.6 129.5 1068.9 132.8" stroke="#3c3c3c" stroke-width="1.3" fill="none" stroke-linecap="round" stroke-linejoin="round"/>
<path d="M87.0 884.6a1.45 1.45 0 1 0 2.9 0a1.45 1.45 0 1 0 -2.9 0M90.7 884.5a1.45 1.45 0 1 0 2.9 0a1.45 1.45 0 1 0 -2.9 0M94.5 884.3a1.45 1.45 0 1 0 2.9 0a1.45 1.45 0 1 0 -2.9 0M98.3 884.2a1.45 1.45 0 1 0 2.9 0a1.45 1.45 0 1 0 -2.9 0M102.1 884.0a1.45 1.45 0 1 0 2.9 0a1.45 1.45 0 1 0 -2.9 0M105.9 883.8a1.45 1.45 0 1 0 2.9 0a1.45 1.45 0 1 0 -2.9 0M109.6 883.6a1.45 1.45 0 1 0 2.9 0a1.45 1.45 0 1 0 -2.9 0M113.4 883.4a1.45 1.45 0 1 0 2.9 0a1.45 1.45 0 1 0 -2.9 0M117.2 883.2a1.45 1.45 0 1 0 2.9 0a1.45 1.45 0 1 0 -2.9 0M121.0 883.0a1.45 1.45 0 1 0 2.9 0a1.45 1.45 0 1 0 -2.9 0M124.8 882.7a1.45 1.45 0 1 0 2.9 0a1.45 1.45 0 1 0 -2.9 0M128.6 882.5a1.45 1.45 0 1 0 2.9 0a1.45 1.45 0 1 0 -2.9 0M132.3 882.2a1.45 1.45 0 1 0 2.9 0a1.45 1.45 0 1 0 -2.9 0M136.1 882.0a1.45 1.45 0 1 0 2.9 0a1.45 1.45 0 1 0 -2.9 0M139.9 881.7a1.45 1.45 0 1 0 2.9 0a1.45 1.45 0 1 0 -2.9 0M143.7 881.5a1.45 1.45 0 1 0 2.9 0a1.45 1.45 0 1 0 -2.9 0M147.5 881.2a1.45 1.45 0 1 0 2.9 0a1.45 1.45 0 1 0 -2.9 0M151.3 880.9a1.45 1.45 0 1 0 2.9 0a1.45 1.45 0 1 0 -2.9 0M155.0 880.7a1.45 1.45 0 1 0 2.9 0a1.45 1.45 0 1 0 -2.9 0M158.8 880.5a1.45 1.45 0 1 0 2.9 0a1.45 1.45 0 1 0 -2.9 0M162.6 880.2a1.45 1.45 0 1 0 2.9 0a1.45 1.45 0 1 0 -2.9 0M166.4 880.0a1.45 1.45 0 1 0 2.9 0a1.45 1.45 0 1 0 -2.9 0M170.2 879.8a1.45 1.45 0 1 0 2.9 0a1.45 1.45 0 1 0 -2.9 0M174.0 879.6a1.45 1.45 0 1 0 2.9 0a1.45 1.45 0 1 0 -2.9 0M177.7 879.4a1.45 1.45 0 1 0 2.9 0a1.45 1.45 0 1 0 -2.9 0M181.5 879.3a1.45 1.45 0 1 0 2.9 0a1.45 1.45 0 1 0 -2.9 0M185.3 879.2a1.45 1.45 0 1 0 2.9 0a1.45 1.45 0 1 0 -2.9 0M189.1 879.1a1.45 1.45 0 1 0 2.9 0a1.45 1.45 0 1 0 -2.9 0M192.9 879.0a1.45 1.45 0 1 0 2.9 0a1.45 1.45 0 1 0 -2.9 0M196.7 878.9a1.45 1.45 0 1 0 2.9 0a1.45 1.45 0 1 0 -2.9 0M200.4 878.9a1.45 1.45 0 1 0 2.9 0a1.45 1.45 0 1 0 -2.9 0M204.2 878.8a1.45 1.45 0 1 0 2.9 0a1.45 1.45 0 1 0 -2.9 0M208.0 878.9a1.45 1.45 0 1 0 2.9 0a1.45 1.45 0 1 0 -2.9 0M211.8 878.9a1.45 1.45 0 1 0 2.9 0a1.45 1.45 0 1 0 -2.9 0M215.6 878.9a1.45 1.45 0 1 0 2.9 0a1.45 1.45 0 1 0 -2.9 0M219.4 879.0a1.45 1.45 0 1 0 2.9 0a1.45 1.45 0 1 0 -2.9 0M223.1 879.1a1.45 1.45 0 1 0 2.9 0a1.45 1.45 0 1 0 -2.9 0M226.9 879.2a1.45 1.45 0 1 0 2.9 0a1.45 1.45 0 1 0 -2.9 0M230.7 879.3a1.45 1.45 0 1 0 2.9 0a1.45 1.45 0 1 0 -2.9 0M234.5 879.4a1.45 1.45 0 1 0 2.9 0a1.45 1.45 0 1 0 -2.9 0M238.3 879.5a1.45 1.45 0 1 0 2.9 0a1.45 1.45 0 1 0 -2.9 0M242.1 879.6a1.45 1.45 0 1 0 2.9 0a1.45 1.45 0 1 0 -2.9 0M245.8 879.7a1.45 1.45 0 1 0 2.9 0a1.45 1.45 0 1 0 -2.9 0M249.6 879.8a1.45 1.45 0 1 0 2.9 0a1.45 1.45 0 1 0 -2.9 0M253.4 879.9a1.45 1.45 0 1 0 2.9 0a1.45 1.45 0 1 0 -2.9 0M257.2 880.0a1.45 1.45 0 1 0 2.9 0a1.45 1.45 0 1 0 -2.9 0M261.0 880.1a1.45 1.45 0 1 0 2.9 0a1.45 1.45 0 1 0 -2.9 0M264.8 880.1a1.45 1.45 0 1 0 2.9 0a1.45 1.45 0 1 0 -2.9 0M268.5 880.1a1.45 1.45 0 1 0 2.9 0a1.45 1.45 0 1 0 -2.9 0M272.3 880.0a1.45 1.45 0 1 0 2.9 0a1.45 1.45 0 1 0 -2.9 0M276.1 880.0a1.45 1.45 0 1 0 2.9 0a1.45 1.45 0 1 0 -2.9 0M279.9 879.8a1.45 1.45 0 1 0 2.9 0a1.45 1.45 0 1 0 -2.9 0M283.7 879.6a1.45 1.45 0 1 0 2.9 0a1.45 1.45 0 1 0 -2.9 0M287.4 879.4a1.45 1.45 0 1 0 2.9 0a1.45 1.45 0 1 0 -2.9 0M291.2 879.1a1.45 1.45 0 1 0 2.9 0a1.45 1.45 0 1 0 -2.9 0M295.0 878.8a1.45 1.45 0 1 0 2.9 0a1.45 1.45 0 1 0 -2.9 0M298.8 878.5a1.45 1.45 0 1 0 2.9 0a1.45 1.45 0 1 0 -2.9 0M302.6 878.1a1.45 1.45 0 1 0 2.9 0a1.45 1.45 0 1 0 -2.9 0M306.4 877.8a1.45 1.45 0 1 0 2.9 0a1.45 1.45 0 1 0 -2.9 0M310.1 877.5a1.45 1.45 0 1 0 2.9 0a1.45 1.45 0 1 0 -2.9 0M313.9 877.3a1.45 1.45 0 1 0 2.9 0a1.45 1.45 0 1 0 -2.9 0M317.7 877.0a1.45 1.45 0 1 0 2.9 0a1.45 1.45 0 1 0 -2.9 0M321.5 876.7a1.45 1.45 0 1 0 2.9 0a1.45 1.45 0 1 0 -2.9 0M325.3 876.2a1.45 1.45 0 1 0 2.9 0a1.45 1.45 0 1 0 -2.9 0M329.1 875.5a1.45 1.45 0 1 0 2.9 0a1.45 1.45 0 1 0 -2.9 0M332.8 874.4a1.45 1.45 0 1 0 2.9 0a1.45 1.45 0 1 0 -2.9 0M336.6 873.0a1.45 1.45 0 1 0 2.9 0a1.45 1.45 0 1 0 -2.9 0M340.4 871.4a1.45 1.45 0 1 0 2.9 0a1.45 1.45 0 1 0 -2.9 0M344.2 869.7a1.45 1.45 0 1 0 2.9 0a1.45 1.45 0 1 0 -2.9 0M348.0 868.3a1.45 1.45 0 1 0 2.9 0a1.45 1.45 0 1 0 -2.9 0M351.8 867.1a1.45 1.45 0 1 0 2.9 0a1.45 1.45 0 1 0 -2.9 0M355.5 866.3a1.45 1.45 0 1 0 2.9 0a1.45 1.45 0 1 0 -2.9 0M359.3 865.8a1.45 1.45 0 1 0 2.9 0a1.45 1.45 0 1 0 -2.9 0M363.1 865.0a1.45 1.45 0 1 0 2.9 0a1.45 1.45 0 1 0 -2.9 0M366.9 863.7a1.45 1.45 0 1 0 2.9 0a1.45 1.45 0 1 0 -2.9 0M370.7 861.5a1.45 1.45 0 1 0 2.9 0a1.45 1.45 0 1 0 -2.9 0M374.5 858.6a1.45 1.45 0 1 0 2.9 0a1.45 1.45 0 1 0 -2.9 0M378.2 855.2a1.45 1.45 0 1 0 2.9 0a1.45 1.45 0 1 0 -2.9 0M382.0 851.8a1.45 1.45 0 1 0 2.9 0a1.45 1.45 0 1 0 -2.9 0M385.8 848.7a1.45 1.45 0 1 0 2.9 0a1.45 1.45 0 1 0 -2.9 0M389.6 845.5a1.45 1.45 0 1 0 2.9 0a1.45 1.45 0 1 0 -2.9 0M393.4 841.8a1.45 1.45 0 1 0 2.9 0a1.45 1.45 0 1 0 -2.9 0M397.2 837.1a1.45 1.45 0 1 0 2.9 0a1.45 1.45 0 1 0 -2.9 0M400.9 830.8a1.45 1.45 0 1 0 2.9 0a1.45 1.45 0 1 0 -2.9 0M404.7 825.6a1.45 1.45 0 1 0 2.9 0a1.45 1.45 0 1 0 -2.9 0M408.5 812.8a1.45 1.45 0 1 0 2.9 0a1.45 1.45 0 1 0 -2.9 0M412.3 795.4a1.45 1.45 0 1 0 2.9 0a1.45 1.45 0 1 0 -2.9 0M416.1 774.3a1.45 1.45 0 1 0 2.9 0a1.45 1.45 0 1 0 -2.9 0M419.9 743.5a1.45 1.45 0 1 0 2.9 0a1.45 1.45 0 1 0 -2.9 0M423.6 701.9a1.45 1.45 0 1 0 2.9 0a1.45 1.45 0 1 0 -2.9 0M427.4 654.0a1.45 1.45 0 1 0 2.9 0a1.45 1.45 0 1 0 -2.9 0M431.2 602.2a1.45 1.45 0 1 0 2.9 0a1.45 1.45 0 1 0 -2.9 0M435.0 561.2a1.45 1.45 0 1 0 2.9 0a1.45 1.45 0 1 0 -2.9 0M438.8 546.5a1.45 1.45 0 1 0 2.9 0a1.45 1.45 0 1 0 -2.9 0M442.6 566.9a1.45 1.45 0 1 0 2.9 0a1.45 1.45 0 1 0 -2.9 0M446.3 618.7a1.45 1.45 0 1 0 2.9 0a1.45 1.45 0 1 0 -2.9 0M450.1 679.8a1.45 1.45 0 1 0 2.9 0a1.45 1.45 0 1 0 -2.9 0M453.9 732.2a1.45 1.45 0 1 0 2.9 0a1.45 1.45 0 1 0 -2.9 0M457.7 774.3a1.45 1.45 0 1 0 2.9 0a1.45 1.45 0 1 0 -2.9 0M461.5 805.1a1.45 1.45 0 1 0 2.9 0a1.45 1.45 0 1 0 -2.9 0M465.3 828.3a1.45 1.45 0 1 0 2.9 0a1.45 1.45 0 1 0 -2.9 0M469.0 846.6a1.45 1.45 0 1 0 2.9 0a1.45 1.45 0 1 0 -2.9 0M472.8 858.0a1.45 1.45 0 1 0 2.9 0a1.45 1.45 0 1 0 -2.9 0M476.6 867.6a1.45 1.45 0 1 0 2.9 0a1.45 1.45 0 1 0 -2.9 0M480.4 874.6a1.45 1.45 0 1 0 2.9 0a1.45 1.45 0 1 0 -2.9 0M484.2 877.6a1.45 1.45 0 1 0 2.9 0a1.45 1.45 0 1 0 -2.9 0M487.9 881.4a1.45 1.45 0 1 0 2.9 0a1.45 1.45 0 1 0 -2.9 0M491.7 884.4a1.45 1.45 0 1 0 2.9 0a1.45 1.45 0 1 0 -2.9 0M495.5 886.8a1.45 1.45 0 1 0 2.9 0a1.45 1.45 0 1 0 -2.9 0M499.3 888.7a1.45 1.45 0 1 0 2.9 0a1.45 1.45 0 1 0 -2.9 0M503.1 890.2a1.45 1.45 0 1 0 2.9 0a1.45 1.45 0 1 0 -2.9 0M506.9 891.4a1.45 1.45 0 1 0 2.9 0a1.45 1.45 0 1 0 -2.9 0M510.6 892.3a1.45 1.45 0 1 0 2.9 0a1.45 1.45 0 1 0 -2.9 0M514.4 893.1a1.45 1.45 0 1 0 2.9 0a1.45 1.45 0 1 0 -2.9 0M518.2 893.7a1.45 1.45 0 1 0 2.9 0a1.45 1.45 0 1 0 -2.9 0M522.0 894.2a1.45 1.45 0 1 0 2.9 0a1.45 1.45 0 1 0 -2.9 0M525.8 894.6a1.45 1.45 0 1 0 2.9 0a1.45 1.45 0 1 0 -2.9 0M529.6 894.9a1.45 1.45 0 1 0 2.9 0a1.45 1.45 0 1 0 -2.9 0M533.3 895.2a1.45 1.45 0 1 0 2.9 0a1.45 1.45 0 1 0 -2.9 0M537.1 895.5a1.45 1.45 0 1 0 2.9 0a1.45 1.45 0 1 0 -2.9 0M540.9 895.7a1.45 1.45 0 1 0 2.9 0a1.45 1.45 0 1 0 -2.9 0M544.7 895.9a1.45 1.45 0 1 0 2.9 0a1.45 1.45 0 1 0 -2.9 0M548.5 896.1a1.45 1.45 0 1 0 2.9 0a1.45 1.45 0 1 0 -2.9 0M552.3 896.3a1.45 1.45 0 1 0 2.9 0a1.45 1.45 0 1 0 -2.9 0M556.0 896.5a1.45 1.45 0 1 0 2.9 0a1.45 1.45 0 1 0 -2.9 0M559.8 896.7a1.45 1.45 0 1 0 2.9 0a1.45 1.45 0 1 0 -2.9 0M563.6 896.8a1.45 1.45 0 1 0 2.9 0a1.45 1.45 0 1 0 -2.9 0M567.4 897.0a1.45 1.45 0 1 0 2.9 0a1.45 1.45 0 1 0 -2.9 0M571.2 897.1a1.45 1.45 0 1 0 2.9 0a1.45 1.45 0 1 0 -2.9 0M575.0 897.3a1.45 1.45 0 1 0 2.9 0a1.45 1.45 0 1 0 -2.9 0M578.7 897.4a1.45 1.45 0 1 0 2.9 0a1.45 1.45 0 1 0 -2.9 0M582.5 897.5a1.45 1.45 0 1 0 2.9 0a1.45 1.45 0 1 0 -2.9 0M586.3 897.6a1.45 1.45 0 1 0 2.9 0a1.45 1.45 0 1 0 -2.9 0M590.1 897.7a1.45 1.45 0 1 0 2.9 0a1.45 1.45 0 1 0 -2.9 0M593.9 897.9a1.45 1.45 0 1 0 2.9 0a1.45 1.45 0 1 0 -2.9 0M597.7 898.0a1.45 1.45 0 1 0 2.9 0a1.45 1.45 0 1 0 -2.9 0M601.4 898.1a1.45 1.45 0 1 0 2.9 0a1.45 1.45 0 1 0 -2.9 0M605.2 898.2a1.45 1.45 0 1 0 2.9 0a1.45 1.45 0 1 0 -2.9 0M609.0 898.3a1.45 1.45 0 1 0 2.9 0a1.45 1.45 0 1 0 -2.9 0M612.8 898.3a1.45 1.45 0 1 0 2.9 0a1.45 1.45 0 1 0 -2.9 0M616.6 898.4a1.45 1.45 0 1 0 2.9 0a1.45 1.45 0 1 0 -2.9 0" fill="#3d2420"/>
<path d="M87.6 885.6L88.4 885.5L92.2 885.4L96.0 885.3L99.7 885.1L103.5 885.0L107.3 884.8L111.1 884.6L114.9 884.4L118.7 884.2L122.4 884.0L126.2 883.8L130.0 883.6L133.8 883.3L137.6 883.1L141.4 882.9L145.1 882.6L148.9 882.4L152.7 882.1L156.5 881.9L160.3 881.7L164.1 881.5L167.8 881.3L171.6 881.1L175.4 881.0L179.2 880.8L183.0 880.7L186.8 880.6L190.5 880.6L194.3 880.5L198.1 880.5L201.9 880.5L205.7 880.5L209.5 880.6L213.2 880.7L217.0 880.8L220.8 880.9L224.6 881.1L228.4 881.3L232.2 881.5L235.9 881.7L239.7 881.9L243.5 882.2L247.3 882.4L251.1 882.7L254.9 883.0L258.6 883.2L262.4 883.5L266.2 883.8L270.0 884.1L273.8 884.3L277.6 884.6L281.3 884.8L285.1 885.1L288.9 885.3L292.7 885.6L296.5 885.8L300.2 886.0L304.0 886.2L307.8 886.4L311.6 886.5L315.4 886.7L319.2 886.9L322.9 887.0L326.7 887.1L330.5 887.3L334.3 887.4L338.1 887.5L341.9 887.6L345.6 887.7L349.4 887.7L353.2 887.8L357.0 887.9L360.8 888.0L364.6 888.0L368.3 888.1L372.1 888.2L375.9 888.3L379.7 888.3L383.5 888.4L387.3 888.6L391.0 888.7L394.8 888.8L398.6 889.0L402.4 889.1L406.2 889.4L410.0 889.8L413.7 890.2L417.5 890.7L421.3 891.1L425.1 891.6L428.9 892.1L432.7 892.6L436.4 893.2L440.2 893.8L444.0 894.3L447.8 894.9L451.6 895.3L455.4 895.8L459.1 896.2L462.9 896.5L466.7 896.6L470.5 896.8L474.3 896.9L478.0 897.0L481.8 897.1L485.6 897.2L489.4 897.3L493.2 897.4L497.0 897.4L500.7 897.5L504.5 897.6L508.3 897.7L512.1 897.7L515.9 897.8L519.7 897.9L523.4 898.0L527.2 898.1L531.0 898.2L534.8 898.3L538.6 898.4L542.4 898.4L546.1 898.5L549.9 898.6L553.7 898.7L557.5 898.8L561.3 898.8L565.1 898.9L568.8 899.0L572.6 899.0L576.4 899.1L580.2 899.2L584.0 899.2L587.8 899.3L591.5 899.4L595.3 899.4L599.1 899.5L602.9 899.6L606.7 899.6L610.5 899.7L614.2 899.8L617.2 899.8" stroke="#A2142F" stroke-opacity="0.4" stroke-width="1.35" fill="none" stroke-linejoin="round"/>
<path d="M87.6 886.6L88.4 886.6L92.2 886.7L96.0 886.7L99.7 886.7L103.5 886.7L107.3 886.7L111.1 886.8L114.9 886.8L118.7 886.8L122.4 886.8L126.2 886.8L130.0 886.8L133.8 886.9L137.6 886.9L141.4 886.9L145.1 886.9L148.9 886.9L152.7 886.9L156.5 886.9L160.3 886.9L164.1 886.9L167.8 887.0L171.6 887.0L175.4 887.0L179.2 887.0L183.0 887.0L186.8 886.9L190.5 886.9L194.3 886.9L198.1 886.9L201.9 886.9L205.7 886.9L209.5 886.9L213.2 886.8L217.0 886.8L220.8 886.8L224.6 886.7L228.4 886.7L232.2 886.6L235.9 886.5L239.7 886.5L243.5 886.4L247.3 886.3L251.1 886.1L254.9 886.0L258.6 885.9L262.4 885.7L266.2 885.5L270.0 885.2L273.8 885.0L277.6 884.7L281.3 884.3L285.1 884.0L288.9 883.6L292.7 883.1L296.5 882.6L300.2 882.2L304.0 881.7L307.8 881.4L311.6 881.1L315.4 880.9L319.2 880.9L322.9 881.1L326.7 881.4L330.5 881.7L334.3 882.2L338.1 882.7L341.9 883.2L345.6 883.7L349.4 884.1L353.2 884.6L357.0 884.9L360.8 885.3L364.6 885.6L368.3 885.9L372.1 886.2L375.9 886.4L379.7 886.7L383.5 886.9L387.3 887.1L391.0 887.3L394.8 887.6L398.6 887.8L402.4 888.1L406.2 888.4L410.0 888.9L413.7 889.4L417.5 889.9L421.3 890.4L425.1 890.9L428.9 891.4L432.7 892.0L436.4 892.6L440.2 893.2L444.0 893.8L447.8 894.4L451.6 894.8L455.4 895.3L459.1 895.7L462.9 896.0L466.7 896.2L470.5 896.4L474.3 896.5L478.0 896.7L481.8 896.8L485.6 896.9L489.4 897.0L493.2 897.1L497.0 897.2L500.7 897.2L504.5 897.3L508.3 897.4L512.1 897.5L515.9 897.6L519.7 897.7L523.4 897.8L527.2 897.9L531.0 898.0L534.8 898.1L538.6 898.2L542.4 898.3L546.1 898.3L549.9 898.4L553.7 898.5L557.5 898.6L561.3 898.7L565.1 898.8L568.8 898.8L572.6 898.9L576.4 899.0L580.2 899.1L584.0 899.1L587.8 899.2L591.5 899.3L595.3 899.3L599.1 899.4L602.9 899.5L606.7 899.5L610.5 899.6L614.2 899.7L617.2 899.7" stroke="#4DBEEE" stroke-opacity="0.5" stroke-width="1.35" fill="none" stroke-linejoin="round"/>
<path d="M87.6 886.8L88.4 886.8L92.2 886.8L96.0 886.9L99.7 886.9L103.5 886.9L107.3 886.9L111.1 887.0L114.9 887.0L118.7 887.0L122.4 887.1L126.2 887.1L130.0 887.1L133.8 887.1L137.6 887.2L141.4 887.2L145.1 887.2L148.9 887.2L152.7 887.2L156.5 887.3L160.3 887.3L164.1 887.3L167.8 887.3L171.6 887.4L175.4 887.4L179.2 887.4L183.0 887.4L186.8 887.4L190.5 887.5L194.3 887.5L198.1 887.5L201.9 887.5L205.7 887.5L209.5 887.6L213.2 887.6L217.0 887.6L220.8 887.6L224.6 887.6L228.4 887.6L232.2 887.7L235.9 887.7L239.7 887.7L243.5 887.7L247.3 887.7L251.1 887.7L254.9 887.8L258.6 887.8L262.4 887.8L266.2 887.8L270.0 887.8L273.8 887.8L277.6 887.8L281.3 887.8L285.1 887.8L288.9 887.9L292.7 887.9L296.5 887.9L300.2 887.9L304.0 887.9L307.8 887.8L311.6 887.8L315.4 887.6L319.2 887.4L322.9 886.9L326.7 886.1L330.5 885.1L334.3 883.7L338.1 881.9L341.9 880.1L345.6 878.2L349.4 876.8L353.2 875.9L357.0 875.8L360.8 876.5L364.6 877.8L368.3 879.6L372.1 881.5L375.9 883.4L379.7 885.0L383.5 886.3L387.3 887.3L391.0 888.0L394.8 888.5L398.6 888.8L402.4 889.1L406.2 889.4L410.0 889.8L413.7 890.2L417.5 890.7L421.3 891.1L425.1 891.6L428.9 892.1L432.7 892.6L436.4 893.2L440.2 893.8L444.0 894.3L447.8 894.9L451.6 895.3L455.4 895.8L459.1 896.2L462.9 896.5L466.7 896.6L470.5 896.8L474.3 896.9L478.0 897.0L481.8 897.1L485.6 897.2L489.4 897.3L493.2 897.4L497.0 897.4L500.7 897.5L504.5 897.6L508.3 897.7L512.1 897.7L515.9 897.8L519.7 897.9L523.4 898.0L527.2 898.1L531.0 898.2L534.8 898.3L538.6 898.4L542.4 898.4L546.1 898.5L549.9 898.6L553.7 898.7L557.5 898.8L561.3 898.8L565.1 898.9L568.8 899.0L572.6 899.0L576.4 899.1L580.2 899.2L584.0 899.2L587.8 899.3L591.5 899.4L595.3 899.4L599.1 899.5L602.9 899.6L606.7 899.6L610.5 899.7L614.2 899.8L617.2 899.8" stroke="#77AC30" stroke-opacity="0.5" stroke-width="1.35" fill="none" stroke-linejoin="round"/>
<path d="M87.6 886.8L88.4 886.8L92.2 886.8L96.0 886.9L99.7 886.9L103.5 886.9L107.3 886.9L111.1 887.0L114.9 887.0L118.7 887.0L122.4 887.1L126.2 887.1L130.0 887.1L133.8 887.1L137.6 887.2L141.4 887.2L145.1 887.2L148.9 887.2L152.7 887.2L156.5 887.3L160.3 887.3L164.1 887.3L167.8 887.3L171.6 887.4L175.4 887.4L179.2 887.4L183.0 887.4L186.8 887.4L190.5 887.5L194.3 887.5L198.1 887.5L201.9 887.5L205.7 887.5L209.5 887.6L213.2 887.6L217.0 887.6L220.8 887.6L224.6 887.6L228.4 887.6L232.2 887.7L235.9 887.7L239.7 887.7L243.5 887.7L247.3 887.7L251.1 887.7L254.9 887.8L258.6 887.8L262.4 887.8L266.2 887.8L270.0 887.8L273.8 887.8L277.6 887.8L281.3 887.8L285.1 887.8L288.9 887.9L292.7 887.9L296.5 887.9L300.2 887.9L304.0 887.9L307.8 887.9L311.6 887.9L315.4 887.9L319.2 888.0L322.9 888.0L326.7 888.0L330.5 888.0L334.3 888.0L338.1 888.0L341.9 888.1L345.6 888.1L349.4 888.1L353.2 888.0L357.0 887.7L360.8 887.2L364.6 886.1L368.3 884.5L372.1 882.4L375.9 880.1L379.7 878.4L383.5 877.7L387.3 878.4L391.0 880.2L394.8 882.6L398.6 885.0L402.4 886.9L406.2 888.3L410.0 889.3L413.7 890.0L417.5 890.6L421.3 891.1L425.1 891.6L428.9 892.1L432.7 892.6L436.4 893.2L440.2 893.8L444.0 894.3L447.8 894.9L451.6 895.3L455.4 895.8L459.1 896.2L462.9 896.5L466.7 896.6L470.5 896.8L474.3 896.9L478.0 897.0L481.8 897.1L485.6 897.2L489.4 897.3L493.2 897.4L497.0 897.4L500.7 897.5L504.5 897.6L508.3 897.7L512.1 897.7L515.9 897.8L519.7 897.9L523.4 898.0L527.2 898.1L531.0 898.2L534.8 898.3L538.6 898.4L542.4 898.4L546.1 898.5L549.9 898.6L553.7 898.7L557.5 898.8L561.3 898.8L565.1 898.9L568.8 899.0L572.6 899.0L576.4 899.1L580.2 899.2L584.0 899.2L587.8 899.3L591.5 899.4L595.3 899.4L599.1 899.5L602.9 899.6L606.7 899.6L610.5 899.7L614.2 899.8L617.2 899.8" stroke="#7E2F8E" stroke-opacity="0.45" stroke-width="1.35" fill="none" stroke-linejoin="round"/>
<path d="M87.6 886.7L88.4 886.7L92.2 886.7L96.0 886.7L99.7 886.8L103.5 886.8L107.3 886.8L111.1 886.8L114.9 886.9L118.7 886.9L122.4 886.9L126.2 886.9L130.0 887.0L133.8 887.0L137.6 887.0L141.4 887.0L145.1 887.0L148.9 887.1L152.7 887.1L156.5 887.1L160.3 887.1L164.1 887.1L167.8 887.1L171.6 887.2L175.4 887.2L179.2 887.2L183.0 887.2L186.8 887.2L190.5 887.2L194.3 887.3L198.1 887.3L201.9 887.3L205.7 887.3L209.5 887.3L213.2 887.3L217.0 887.3L220.8 887.3L224.6 887.3L228.4 887.3L232.2 887.3L235.9 887.3L239.7 887.3L243.5 887.3L247.3 887.3L251.1 887.3L254.9 887.3L258.6 887.3L262.4 887.3L266.2 887.3L270.0 887.3L273.8 887.3L277.6 887.3L281.3 887.3L285.1 887.2L288.9 887.2L292.7 887.2L296.5 887.2L300.2 887.2L304.0 887.1L307.8 887.1L311.6 887.1L315.4 887.0L319.2 887.0L322.9 886.9L326.7 886.8L330.5 886.8L334.3 886.6L338.1 886.5L341.9 886.3L345.6 886.1L349.4 885.7L353.2 885.3L357.0 884.6L360.8 883.8L364.6 882.6L368.3 881.1L372.1 879.2L375.9 876.7L379.7 873.6L383.5 869.9L387.3 865.5L391.0 860.4L394.8 854.6L398.6 848.3L402.4 841.4L406.2 834.4L410.0 827.5L413.7 820.9L417.5 814.9L421.3 809.9L425.1 806.2L428.9 804.1L432.7 803.8L436.4 805.4L440.2 808.7L444.0 813.7L447.8 819.8L451.6 826.7L455.4 834.3L459.1 842.0L462.9 849.5L466.7 856.6L470.5 863.2L474.3 869.2L478.0 874.4L481.8 879.0L485.6 882.8L489.4 885.9L493.2 888.4L497.0 890.4L500.7 892.0L504.5 893.2L508.3 894.2L512.1 894.9L515.9 895.5L519.7 895.9L523.4 896.3L527.2 896.6L531.0 896.8L534.8 897.0L538.6 897.2L542.4 897.4L546.1 897.5L549.9 897.7L553.7 897.8L557.5 897.9L561.3 898.1L565.1 898.2L568.8 898.3L572.6 898.4L576.4 898.5L580.2 898.6L584.0 898.7L587.8 898.8L591.5 898.9L595.3 899.0L599.1 899.0L602.9 899.1L606.7 899.2L610.5 899.3L614.2 899.4L617.2 899.4" stroke="#EDB120" stroke-opacity="0.47" stroke-width="1.35" fill="none" stroke-linejoin="round"/>
<path d="M87.6 886.7L88.4 886.7L92.2 886.8L96.0 886.8L99.7 886.8L103.5 886.8L107.3 886.9L111.1 886.9L114.9 886.9L118.7 886.9L122.4 887.0L126.2 887.0L130.0 887.0L133.8 887.0L137.6 887.0L141.4 887.1L145.1 887.1L148.9 887.1L152.7 887.1L156.5 887.2L160.3 887.2L164.1 887.2L167.8 887.2L171.6 887.2L175.4 887.2L179.2 887.3L183.0 887.3L186.8 887.3L190.5 887.3L194.3 887.3L198.1 887.3L201.9 887.4L205.7 887.4L209.5 887.4L213.2 887.4L217.0 887.4L220.8 887.4L224.6 887.4L228.4 887.4L232.2 887.5L235.9 887.5L239.7 887.5L243.5 887.5L247.3 887.5L251.1 887.5L254.9 887.5L258.6 887.5L262.4 887.5L266.2 887.5L270.0 887.5L273.8 887.5L277.6 887.5L281.3 887.5L285.1 887.5L288.9 887.4L292.7 887.4L296.5 887.4L300.2 887.4L304.0 887.4L307.8 887.4L311.6 887.4L315.4 887.3L319.2 887.3L322.9 887.3L326.7 887.3L330.5 887.2L334.3 887.2L338.1 887.2L341.9 887.1L345.6 887.1L349.4 887.0L353.2 886.9L357.0 886.8L360.8 886.8L364.6 886.6L368.3 886.5L372.1 886.4L375.9 886.2L379.7 886.0L383.5 885.8L387.3 885.5L391.0 885.1L394.8 884.6L398.6 883.8L402.4 882.6L406.2 880.3L410.0 875.8L413.7 866.9L417.5 850.8L421.3 824.7L425.1 787.3L428.9 741.0L432.7 692.9L436.4 654.8L440.2 640.2L444.0 655.4L447.8 694.1L451.6 743.2L455.4 790.6L459.1 829.0L462.9 856.1L466.7 873.0L470.5 882.6L474.3 887.7L478.0 890.4L481.8 891.9L485.6 892.9L489.4 893.6L493.2 894.2L497.0 894.7L500.7 895.0L504.5 895.4L508.3 895.7L512.1 896.0L515.9 896.2L519.7 896.5L523.4 896.7L527.2 896.9L531.0 897.1L534.8 897.2L538.6 897.4L542.4 897.6L546.1 897.7L549.9 897.8L553.7 898.0L557.5 898.1L561.3 898.2L565.1 898.3L568.8 898.4L572.6 898.5L576.4 898.6L580.2 898.7L584.0 898.8L587.8 898.9L591.5 899.0L595.3 899.1L599.1 899.1L602.9 899.2L606.7 899.3L610.5 899.4L614.2 899.4L617.2 899.5" stroke="#D95319" stroke-opacity="0.48" stroke-width="1.35" fill="none" stroke-linejoin="round"/>
<path d="M87.6 886.8L88.4 886.8L92.2 886.8L96.0 886.9L99.7 886.9L103.5 886.9L107.3 886.9L111.1 887.0L114.9 887.0L118.7 887.0L122.4 887.1L126.2 887.1L130.0 887.1L133.8 887.1L137.6 887.2L141.4 887.2L145.1 887.2L148.9 887.2L152.7 887.2L156.5 887.3L160.3 887.3L164.1 887.3L167.8 887.3L171.6 887.4L175.4 887.4L179.2 887.4L183.0 887.4L186.8 887.4L190.5 887.5L194.3 887.5L198.1 887.5L201.9 887.5L205.7 887.5L209.5 887.6L213.2 887.6L217.0 887.6L220.8 887.6L224.6 887.6L228.4 887.6L232.2 887.7L235.9 887.7L239.7 887.7L243.5 887.7L247.3 887.7L251.1 887.7L254.9 887.8L258.6 887.8L262.4 887.8L266.2 887.8L270.0 887.8L273.8 887.8L277.6 887.8L281.3 887.8L285.1 887.8L288.9 887.9L292.7 887.9L296.5 887.9L300.2 887.9L304.0 887.9L307.8 887.9L311.6 887.9L315.4 887.9L319.2 888.0L322.9 888.0L326.7 888.0L330.5 888.0L334.3 888.0L338.1 888.0L341.9 888.1L345.6 888.1L349.4 888.1L353.2 888.1L357.0 888.2L360.8 888.2L364.6 888.2L368.3 888.3L372.1 888.3L375.9 888.4L379.7 888.4L383.5 888.5L387.3 888.6L391.0 888.7L394.8 888.8L398.6 889.0L402.4 889.2L406.2 889.4L410.0 889.8L413.7 890.2L417.5 890.7L421.3 891.1L425.1 891.6L428.9 892.1L432.7 892.6L436.4 893.2L440.2 893.8L444.0 894.3L447.8 894.9L451.6 895.3L455.4 895.8L459.1 896.2L462.9 896.5L466.7 896.6L470.5 896.8L474.3 896.9L478.0 897.0L481.8 897.1L485.6 897.2L489.4 897.3L493.2 897.4L497.0 897.4L500.7 897.5L504.5 897.6L508.3 897.7L512.1 897.7L515.9 897.8L519.7 897.9L523.4 898.0L527.2 898.1L531.0 898.2L534.8 898.3L538.6 898.4L542.4 898.4L546.1 898.5L549.9 898.6L553.7 898.7L557.5 898.8L561.3 898.8L565.1 898.9L568.8 899.0L572.6 899.0L576.4 899.1L580.2 899.2L584.0 899.2L587.8 899.3L591.5 899.4L595.3 899.4L599.1 899.5L602.9 899.6L606.7 899.6L610.5 899.7L614.2 899.8L617.2 899.8" stroke="#0072BD" stroke-opacity="0.62" stroke-width="1.8" fill="none" stroke-linejoin="round"/>
<path d="M87.6 885.2L88.4 885.2L92.2 885.1L96.0 884.9L99.7 884.8L103.5 884.6L107.3 884.4L111.1 884.2L114.9 884.0L118.7 883.8L122.4 883.6L126.2 883.3L130.0 883.1L133.8 882.8L137.6 882.6L141.4 882.3L145.1 882.1L148.9 881.8L152.7 881.5L156.5 881.3L160.3 881.1L164.1 880.8L167.8 880.6L171.6 880.4L175.4 880.2L179.2 880.0L183.0 879.9L186.8 879.8L190.5 879.7L194.3 879.6L198.1 879.5L201.9 879.5L205.7 879.4L209.5 879.5L213.2 879.5L217.0 879.5L220.8 879.6L224.6 879.7L228.4 879.8L232.2 879.9L235.9 880.0L239.7 880.1L243.5 880.2L247.3 880.3L251.1 880.4L254.9 880.5L258.6 880.6L262.4 880.7L266.2 880.7L270.0 880.7L273.8 880.6L277.6 880.6L281.3 880.4L285.1 880.2L288.9 880.0L292.7 879.7L296.5 879.4L300.2 879.1L304.0 878.7L307.8 878.4L311.6 878.1L315.4 877.9L319.2 877.6L322.9 877.3L326.7 876.8L330.5 876.1L334.3 875.0L338.1 873.6L341.9 872.0L345.6 870.3L349.4 868.9L353.2 867.7L357.0 866.9L360.8 866.4L364.6 865.6L368.3 864.3L372.1 862.1L375.9 859.2L379.7 855.8L383.5 852.4L387.3 849.3L391.0 846.1L394.8 842.4L398.6 837.7L402.4 831.4L406.2 823.1L410.0 812.0L413.7 796.5L417.5 774.1L421.3 742.6L425.1 701.2L428.9 652.3L432.7 603.4L436.4 566.4L440.2 554.6L444.0 574.2L447.8 618.5L451.6 674.1L455.4 728.6L459.1 774.4L462.9 808.7L466.7 832.6L470.5 848.7L474.3 859.6L478.0 867.5L481.8 873.5L485.6 878.2L489.4 882.0L493.2 885.0L497.0 887.4L500.7 889.3L504.5 890.8L508.3 892.0L512.1 892.9L515.9 893.7L519.7 894.3L523.4 894.8L527.2 895.2L531.0 895.5L534.8 895.8L538.6 896.1L542.4 896.3L546.1 896.5L549.9 896.7L553.7 896.9L557.5 897.1L561.3 897.3L565.1 897.4L568.8 897.6L572.6 897.7L576.4 897.9L580.2 898.0L584.0 898.1L587.8 898.2L591.5 898.3L595.3 898.5L599.1 898.6L602.9 898.7L606.7 898.8L610.5 898.9L614.2 898.9L617.2 899.0" stroke="#DE4A3E" stroke-opacity="0.5" stroke-width="1.6" fill="none" stroke-linejoin="round"/>
<text x="97.80" y="534.80" font-size="27.5" fill="#111" stroke="#111" stroke-width="0.3">C s, No UV</text><path transform="translate(117.66,534.80) scale(0.013428,-0.013428)" d="M515 0L515 1220L235 1025L235 1185L530 1409L696 1409L696 0Z" fill="#111" stroke="#111" stroke-width="22.3"/>
<text x="472.10" y="650.60" font-size="26" fill="#222" text-anchor="start" stroke="#222" stroke-width="0.3">C-C sp2</text>
<path d="M464.4 643.1L443.3 643.1" stroke="#8a8a8a" stroke-width="1.6" fill="none"/><path d="M446.7 637.1Q444.4 640.4 442.5 643.1Q444.4 645.8 446.7 649.1" stroke="#3c3c3c" stroke-width="1.3" fill="none" stroke-linecap="round" stroke-linejoin="round"/>
<text x="475.90" y="815.60" font-size="26" fill="#222" text-anchor="start" stroke="#222" stroke-width="0.3">C-C sp3</text>
<path d="M460.0 808.1L439.6 808.1" stroke="#8a8a8a" stroke-width="1.6" fill="none"/><path d="M442.9 802.1Q440.6 805.4 438.8 808.1Q440.6 810.8 442.9 814.1" stroke="#3c3c3c" stroke-width="1.3" fill="none" stroke-linecap="round" stroke-linejoin="round"/>
<text x="311.80" y="809.10" font-size="26" fill="#222" text-anchor="start" stroke="#222" stroke-width="0.3">&gt;C=O</text>
<path d="M318.4 823.1L318.4 843.9" stroke="#8a8a8a" stroke-width="1.6" fill="none"/><path d="M312.4 840.5Q315.7 842.8 318.4 844.7Q321.1 842.8 324.4 840.5" stroke="#3c3c3c" stroke-width="1.3" fill="none" stroke-linecap="round" stroke-linejoin="round"/>
<text x="198.40" y="840.00" font-size="26" fill="#222" text-anchor="start" stroke="#222" stroke-width="0.3">O=C-OH</text>
<path d="M205.4 855.0L205.4 875.8" stroke="#8a8a8a" stroke-width="1.6" fill="none"/><path d="M199.4 872.4Q202.7 874.7 205.4 876.6Q208.1 874.7 211.4 872.4" stroke="#3c3c3c" stroke-width="1.3" fill="none" stroke-linecap="round" stroke-linejoin="round"/>
<text x="350.30" y="839.00" font-size="25.5" fill="#222" text-anchor="start" stroke="#222" stroke-width="0.3">C-O-C</text>
<path d="M356.0 854.0L356.0 873.0" stroke="#8a8a8a" stroke-width="1.6" fill="none"/><path d="M350.0 869.5Q353.3 871.9 356.0 873.8Q358.7 871.9 362.0 869.5" stroke="#3c3c3c" stroke-width="1.3" fill="none" stroke-linecap="round" stroke-linejoin="round"/>
<path d="M318.4 856.0L318.4 876.7" stroke="#8a8a8a" stroke-width="1.6" fill="none"/><path d="M312.4 873.3Q315.7 875.6 318.4 877.5Q321.1 875.6 324.4 873.3" stroke="#3c3c3c" stroke-width="1.3" fill="none" stroke-linecap="round" stroke-linejoin="round"/>
<text x="426.60" y="890.10" font-size="25.5" fill="#222" text-anchor="start" stroke="#222" stroke-width="0.3">C-OH</text>
<path d="M417.2 883.0L397.2 883.0" stroke="#8a8a8a" stroke-width="1.6" fill="none"/><path d="M400.6 877.0Q398.3 880.3 396.4 883.0Q398.3 885.7 400.6 889.0" stroke="#3c3c3c" stroke-width="1.3" fill="none" stroke-linecap="round" stroke-linejoin="round"/>
<path d="M727.6 889.3a1.45 1.45 0 1 0 2.9 0a1.45 1.45 0 1 0 -2.9 0M731.4 889.2a1.45 1.45 0 1 0 2.9 0a1.45 1.45 0 1 0 -2.9 0M735.2 889.1a1.45 1.45 0 1 0 2.9 0a1.45 1.45 0 1 0 -2.9 0M738.9 889.0a1.45 1.45 0 1 0 2.9 0a1.45 1.45 0 1 0 -2.9 0M742.7 888.9a1.45 1.45 0 1 0 2.9 0a1.45 1.45 0 1 0 -2.9 0M746.5 888.8a1.45 1.45 0 1 0 2.9 0a1.45 1.45 0 1 0 -2.9 0M750.3 888.7a1.45 1.45 0 1 0 2.9 0a1.45 1.45 0 1 0 -2.9 0M754.1 888.5a1.45 1.45 0 1 0 2.9 0a1.45 1.45 0 1 0 -2.9 0M757.8 888.4a1.45 1.45 0 1 0 2.9 0a1.45 1.45 0 1 0 -2.9 0M761.6 888.3a1.45 1.45 0 1 0 2.9 0a1.45 1.45 0 1 0 -2.9 0M765.4 888.2a1.45 1.45 0 1 0 2.9 0a1.45 1.45 0 1 0 -2.9 0M769.2 888.0a1.45 1.45 0 1 0 2.9 0a1.45 1.45 0 1 0 -2.9 0M773.0 887.9a1.45 1.45 0 1 0 2.9 0a1.45 1.45 0 1 0 -2.9 0M776.8 887.8a1.45 1.45 0 1 0 2.9 0a1.45 1.45 0 1 0 -2.9 0M780.5 887.6a1.45 1.45 0 1 0 2.9 0a1.45 1.45 0 1 0 -2.9 0M784.3 887.5a1.45 1.45 0 1 0 2.9 0a1.45 1.45 0 1 0 -2.9 0M788.1 887.4a1.45 1.45 0 1 0 2.9 0a1.45 1.45 0 1 0 -2.9 0M791.9 887.3a1.45 1.45 0 1 0 2.9 0a1.45 1.45 0 1 0 -2.9 0M795.7 887.2a1.45 1.45 0 1 0 2.9 0a1.45 1.45 0 1 0 -2.9 0M799.4 887.1a1.45 1.45 0 1 0 2.9 0a1.45 1.45 0 1 0 -2.9 0M803.2 887.0a1.45 1.45 0 1 0 2.9 0a1.45 1.45 0 1 0 -2.9 0M807.0 886.9a1.45 1.45 0 1 0 2.9 0a1.45 1.45 0 1 0 -2.9 0M810.8 886.8a1.45 1.45 0 1 0 2.9 0a1.45 1.45 0 1 0 -2.9 0M814.6 886.8a1.45 1.45 0 1 0 2.9 0a1.45 1.45 0 1 0 -2.9 0M818.4 886.7a1.45 1.45 0 1 0 2.9 0a1.45 1.45 0 1 0 -2.9 0M822.1 886.7a1.45 1.45 0 1 0 2.9 0a1.45 1.45 0 1 0 -2.9 0M825.9 886.7a1.45 1.45 0 1 0 2.9 0a1.45 1.45 0 1 0 -2.9 0M829.7 886.6a1.45 1.45 0 1 0 2.9 0a1.45 1.45 0 1 0 -2.9 0M833.5 886.6a1.45 1.45 0 1 0 2.9 0a1.45 1.45 0 1 0 -2.9 0M837.3 886.6a1.45 1.45 0 1 0 2.9 0a1.45 1.45 0 1 0 -2.9 0M841.0 886.7a1.45 1.45 0 1 0 2.9 0a1.45 1.45 0 1 0 -2.9 0M844.8 886.7a1.45 1.45 0 1 0 2.9 0a1.45 1.45 0 1 0 -2.9 0M848.6 886.7a1.45 1.45 0 1 0 2.9 0a1.45 1.45 0 1 0 -2.9 0M852.4 886.7a1.45 1.45 0 1 0 2.9 0a1.45 1.45 0 1 0 -2.9 0M856.2 886.7a1.45 1.45 0 1 0 2.9 0a1.45 1.45 0 1 0 -2.9 0M860.0 886.6a1.45 1.45 0 1 0 2.9 0a1.45 1.45 0 1 0 -2.9 0M863.7 886.6a1.45 1.45 0 1 0 2.9 0a1.45 1.45 0 1 0 -2.9 0M867.5 886.4a1.45 1.45 0 1 0 2.9 0a1.45 1.45 0 1 0 -2.9 0M871.3 886.2a1.45 1.45 0 1 0 2.9 0a1.45 1.45 0 1 0 -2.9 0M875.1 885.9a1.45 1.45 0 1 0 2.9 0a1.45 1.45 0 1 0 -2.9 0M878.9 885.6a1.45 1.45 0 1 0 2.9 0a1.45 1.45 0 1 0 -2.9 0M882.7 885.1a1.45 1.45 0 1 0 2.9 0a1.45 1.45 0 1 0 -2.9 0M886.4 884.6a1.45 1.45 0 1 0 2.9 0a1.45 1.45 0 1 0 -2.9 0M890.2 884.1a1.45 1.45 0 1 0 2.9 0a1.45 1.45 0 1 0 -2.9 0M894.0 883.5a1.45 1.45 0 1 0 2.9 0a1.45 1.45 0 1 0 -2.9 0M897.8 883.0a1.45 1.45 0 1 0 2.9 0a1.45 1.45 0 1 0 -2.9 0M901.6 882.5a1.45 1.45 0 1 0 2.9 0a1.45 1.45 0 1 0 -2.9 0M905.3 882.2a1.45 1.45 0 1 0 2.9 0a1.45 1.45 0 1 0 -2.9 0M909.1 881.9a1.45 1.45 0 1 0 2.9 0a1.45 1.45 0 1 0 -2.9 0M912.9 881.9a1.45 1.45 0 1 0 2.9 0a1.45 1.45 0 1 0 -2.9 0M916.7 882.0a1.45 1.45 0 1 0 2.9 0a1.45 1.45 0 1 0 -2.9 0M920.5 882.3a1.45 1.45 0 1 0 2.9 0a1.45 1.45 0 1 0 -2.9 0M924.3 882.7a1.45 1.45 0 1 0 2.9 0a1.45 1.45 0 1 0 -2.9 0M928.0 883.2a1.45 1.45 0 1 0 2.9 0a1.45 1.45 0 1 0 -2.9 0M931.8 883.7a1.45 1.45 0 1 0 2.9 0a1.45 1.45 0 1 0 -2.9 0M935.6 884.2a1.45 1.45 0 1 0 2.9 0a1.45 1.45 0 1 0 -2.9 0M939.4 884.6a1.45 1.45 0 1 0 2.9 0a1.45 1.45 0 1 0 -2.9 0M943.2 884.9a1.45 1.45 0 1 0 2.9 0a1.45 1.45 0 1 0 -2.9 0M946.9 885.0a1.45 1.45 0 1 0 2.9 0a1.45 1.45 0 1 0 -2.9 0M950.7 884.8a1.45 1.45 0 1 0 2.9 0a1.45 1.45 0 1 0 -2.9 0M954.5 884.5a1.45 1.45 0 1 0 2.9 0a1.45 1.45 0 1 0 -2.9 0M958.3 884.0a1.45 1.45 0 1 0 2.9 0a1.45 1.45 0 1 0 -2.9 0M962.1 883.3a1.45 1.45 0 1 0 2.9 0a1.45 1.45 0 1 0 -2.9 0M965.9 882.4a1.45 1.45 0 1 0 2.9 0a1.45 1.45 0 1 0 -2.9 0M969.6 881.4a1.45 1.45 0 1 0 2.9 0a1.45 1.45 0 1 0 -2.9 0M973.4 880.4a1.45 1.45 0 1 0 2.9 0a1.45 1.45 0 1 0 -2.9 0M977.2 879.3a1.45 1.45 0 1 0 2.9 0a1.45 1.45 0 1 0 -2.9 0M981.0 878.2a1.45 1.45 0 1 0 2.9 0a1.45 1.45 0 1 0 -2.9 0M984.8 877.2a1.45 1.45 0 1 0 2.9 0a1.45 1.45 0 1 0 -2.9 0M988.5 876.2a1.45 1.45 0 1 0 2.9 0a1.45 1.45 0 1 0 -2.9 0M992.3 875.3a1.45 1.45 0 1 0 2.9 0a1.45 1.45 0 1 0 -2.9 0M996.1 874.3a1.45 1.45 0 1 0 2.9 0a1.45 1.45 0 1 0 -2.9 0M999.9 873.3a1.45 1.45 0 1 0 2.9 0a1.45 1.45 0 1 0 -2.9 0M1003.7 872.2a1.45 1.45 0 1 0 2.9 0a1.45 1.45 0 1 0 -2.9 0M1007.5 870.8a1.45 1.45 0 1 0 2.9 0a1.45 1.45 0 1 0 -2.9 0M1011.2 869.2a1.45 1.45 0 1 0 2.9 0a1.45 1.45 0 1 0 -2.9 0M1015.0 867.1a1.45 1.45 0 1 0 2.9 0a1.45 1.45 0 1 0 -2.9 0M1018.8 864.6a1.45 1.45 0 1 0 2.9 0a1.45 1.45 0 1 0 -2.9 0M1022.6 861.4a1.45 1.45 0 1 0 2.9 0a1.45 1.45 0 1 0 -2.9 0M1026.4 857.7a1.45 1.45 0 1 0 2.9 0a1.45 1.45 0 1 0 -2.9 0M1030.1 853.4a1.45 1.45 0 1 0 2.9 0a1.45 1.45 0 1 0 -2.9 0M1033.9 848.6a1.45 1.45 0 1 0 2.9 0a1.45 1.45 0 1 0 -2.9 0M1037.7 843.4a1.45 1.45 0 1 0 2.9 0a1.45 1.45 0 1 0 -2.9 0M1041.5 837.9a1.45 1.45 0 1 0 2.9 0a1.45 1.45 0 1 0 -2.9 0M1045.3 832.1a1.45 1.45 0 1 0 2.9 0a1.45 1.45 0 1 0 -2.9 0M1049.1 825.7a1.45 1.45 0 1 0 2.9 0a1.45 1.45 0 1 0 -2.9 0M1052.8 817.9a1.45 1.45 0 1 0 2.9 0a1.45 1.45 0 1 0 -2.9 0M1056.6 808.9a1.45 1.45 0 1 0 2.9 0a1.45 1.45 0 1 0 -2.9 0M1060.4 794.9a1.45 1.45 0 1 0 2.9 0a1.45 1.45 0 1 0 -2.9 0M1064.2 779.0a1.45 1.45 0 1 0 2.9 0a1.45 1.45 0 1 0 -2.9 0M1068.0 757.6a1.45 1.45 0 1 0 2.9 0a1.45 1.45 0 1 0 -2.9 0M1071.8 733.8a1.45 1.45 0 1 0 2.9 0a1.45 1.45 0 1 0 -2.9 0M1075.5 712.8a1.45 1.45 0 1 0 2.9 0a1.45 1.45 0 1 0 -2.9 0M1079.3 697.1a1.45 1.45 0 1 0 2.9 0a1.45 1.45 0 1 0 -2.9 0M1083.1 694.7a1.45 1.45 0 1 0 2.9 0a1.45 1.45 0 1 0 -2.9 0M1086.9 712.8a1.45 1.45 0 1 0 2.9 0a1.45 1.45 0 1 0 -2.9 0M1090.7 738.5a1.45 1.45 0 1 0 2.9 0a1.45 1.45 0 1 0 -2.9 0M1094.4 777.4a1.45 1.45 0 1 0 2.9 0a1.45 1.45 0 1 0 -2.9 0M1098.2 808.0a1.45 1.45 0 1 0 2.9 0a1.45 1.45 0 1 0 -2.9 0M1102.0 829.6a1.45 1.45 0 1 0 2.9 0a1.45 1.45 0 1 0 -2.9 0M1105.8 845.4a1.45 1.45 0 1 0 2.9 0a1.45 1.45 0 1 0 -2.9 0M1109.6 857.4a1.45 1.45 0 1 0 2.9 0a1.45 1.45 0 1 0 -2.9 0M1113.4 868.5a1.45 1.45 0 1 0 2.9 0a1.45 1.45 0 1 0 -2.9 0M1117.1 875.4a1.45 1.45 0 1 0 2.9 0a1.45 1.45 0 1 0 -2.9 0M1120.9 881.7a1.45 1.45 0 1 0 2.9 0a1.45 1.45 0 1 0 -2.9 0M1124.7 885.3a1.45 1.45 0 1 0 2.9 0a1.45 1.45 0 1 0 -2.9 0M1128.5 886.9a1.45 1.45 0 1 0 2.9 0a1.45 1.45 0 1 0 -2.9 0M1132.3 888.4a1.45 1.45 0 1 0 2.9 0a1.45 1.45 0 1 0 -2.9 0M1136.0 890.0a1.45 1.45 0 1 0 2.9 0a1.45 1.45 0 1 0 -2.9 0M1139.8 891.1a1.45 1.45 0 1 0 2.9 0a1.45 1.45 0 1 0 -2.9 0M1143.6 892.3a1.45 1.45 0 1 0 2.9 0a1.45 1.45 0 1 0 -2.9 0M1147.4 893.4a1.45 1.45 0 1 0 2.9 0a1.45 1.45 0 1 0 -2.9 0M1151.2 894.3a1.45 1.45 0 1 0 2.9 0a1.45 1.45 0 1 0 -2.9 0M1155.0 895.0a1.45 1.45 0 1 0 2.9 0a1.45 1.45 0 1 0 -2.9 0M1158.7 895.8a1.45 1.45 0 1 0 2.9 0a1.45 1.45 0 1 0 -2.9 0M1162.5 896.4a1.45 1.45 0 1 0 2.9 0a1.45 1.45 0 1 0 -2.9 0M1166.3 896.7a1.45 1.45 0 1 0 2.9 0a1.45 1.45 0 1 0 -2.9 0M1170.1 897.0a1.45 1.45 0 1 0 2.9 0a1.45 1.45 0 1 0 -2.9 0M1173.9 897.3a1.45 1.45 0 1 0 2.9 0a1.45 1.45 0 1 0 -2.9 0M1177.6 897.6a1.45 1.45 0 1 0 2.9 0a1.45 1.45 0 1 0 -2.9 0M1181.4 897.8a1.45 1.45 0 1 0 2.9 0a1.45 1.45 0 1 0 -2.9 0M1185.2 898.0a1.45 1.45 0 1 0 2.9 0a1.45 1.45 0 1 0 -2.9 0M1189.0 898.2a1.45 1.45 0 1 0 2.9 0a1.45 1.45 0 1 0 -2.9 0M1192.8 898.2a1.45 1.45 0 1 0 2.9 0a1.45 1.45 0 1 0 -2.9 0M1196.6 898.3a1.45 1.45 0 1 0 2.9 0a1.45 1.45 0 1 0 -2.9 0M1200.3 898.3a1.45 1.45 0 1 0 2.9 0a1.45 1.45 0 1 0 -2.9 0M1204.1 898.4a1.45 1.45 0 1 0 2.9 0a1.45 1.45 0 1 0 -2.9 0M1207.9 898.5a1.45 1.45 0 1 0 2.9 0a1.45 1.45 0 1 0 -2.9 0M1211.7 898.5a1.45 1.45 0 1 0 2.9 0a1.45 1.45 0 1 0 -2.9 0M1215.5 898.6a1.45 1.45 0 1 0 2.9 0a1.45 1.45 0 1 0 -2.9 0M1219.2 898.7a1.45 1.45 0 1 0 2.9 0a1.45 1.45 0 1 0 -2.9 0M1223.0 898.7a1.45 1.45 0 1 0 2.9 0a1.45 1.45 0 1 0 -2.9 0M1226.8 898.8a1.45 1.45 0 1 0 2.9 0a1.45 1.45 0 1 0 -2.9 0M1230.6 898.9a1.45 1.45 0 1 0 2.9 0a1.45 1.45 0 1 0 -2.9 0M1234.4 899.0a1.45 1.45 0 1 0 2.9 0a1.45 1.45 0 1 0 -2.9 0M1238.2 899.0a1.45 1.45 0 1 0 2.9 0a1.45 1.45 0 1 0 -2.9 0M1241.9 899.1a1.45 1.45 0 1 0 2.9 0a1.45 1.45 0 1 0 -2.9 0M1245.7 899.2a1.45 1.45 0 1 0 2.9 0a1.45 1.45 0 1 0 -2.9 0M1249.5 899.3a1.45 1.45 0 1 0 2.9 0a1.45 1.45 0 1 0 -2.9 0M1253.3 899.3a1.45 1.45 0 1 0 2.9 0a1.45 1.45 0 1 0 -2.9 0M1257.1 899.4a1.45 1.45 0 1 0 2.9 0a1.45 1.45 0 1 0 -2.9 0" fill="#3d2420"/>
<path d="M728.4 890.0L729.0 890.0L732.8 889.9L736.6 889.8L740.4 889.7L744.2 889.6L747.9 889.5L751.7 889.3L755.5 889.2L759.3 889.1L763.1 889.0L766.9 888.8L770.6 888.7L774.4 888.6L778.2 888.4L782.0 888.3L785.8 888.2L789.6 888.1L793.3 888.0L797.1 887.9L800.9 887.8L804.7 887.7L808.5 887.6L812.2 887.5L816.0 887.5L819.8 887.4L823.6 887.4L827.4 887.4L831.2 887.4L834.9 887.4L838.7 887.4L842.5 887.4L846.3 887.5L850.1 887.5L853.8 887.6L857.6 887.7L861.4 887.8L865.2 887.9L869.0 888.0L872.8 888.1L876.5 888.2L880.3 888.3L884.1 888.5L887.9 888.6L891.7 888.8L895.4 888.9L899.2 889.1L903.0 889.2L906.8 889.4L910.6 889.5L914.4 889.7L918.1 889.8L921.9 890.0L925.7 890.1L929.5 890.2L933.3 890.4L937.0 890.5L940.8 890.6L944.6 890.8L948.4 890.9L952.2 891.0L956.0 891.1L959.7 891.2L963.5 891.3L967.3 891.4L971.1 891.5L974.9 891.6L978.7 891.6L982.4 891.7L986.2 891.8L990.0 891.8L993.8 891.9L997.6 892.0L1001.3 892.0L1005.1 892.0L1008.9 892.1L1012.7 892.1L1016.5 892.2L1020.3 892.2L1024.0 892.2L1027.8 892.2L1031.6 892.3L1035.4 892.4L1039.2 892.5L1042.9 892.7L1046.7 892.9L1050.5 893.2L1054.3 893.4L1058.1 893.7L1061.9 894.0L1065.6 894.3L1069.4 894.5L1073.2 894.8L1077.0 895.2L1080.8 895.5L1084.5 895.9L1088.3 896.3L1092.1 896.6L1095.9 897.0L1099.7 897.3L1103.5 897.5L1107.2 897.7L1111.0 897.9L1114.8 898.0L1118.6 898.2L1122.4 898.3L1126.2 898.4L1129.9 898.5L1133.7 898.6L1137.5 898.7L1141.3 898.8L1145.1 898.9L1148.8 899.0L1152.6 899.0L1156.4 899.1L1160.2 899.1L1164.0 899.1L1167.8 899.2L1171.5 899.2L1175.3 899.2L1179.1 899.2L1182.9 899.2L1186.7 899.3L1190.4 899.3L1194.2 899.3L1198.0 899.3L1201.8 899.3L1205.6 899.3L1209.4 899.3L1213.1 899.3L1216.9 899.3L1220.7 899.4L1224.5 899.4L1228.3 899.4L1232.0 899.4L1235.8 899.4L1239.6 899.4L1243.4 899.4L1247.2 899.4L1251.0 899.4L1254.7 899.4L1257.9 899.4" stroke="#A2142F" stroke-opacity="0.4" stroke-width="1.35" fill="none" stroke-linejoin="round"/>
<path d="M728.4 891.0L729.0 891.0L732.8 891.0L736.6 891.0L740.4 891.0L744.2 891.0L747.9 891.0L751.7 891.0L755.5 891.0L759.3 891.0L763.1 891.0L766.9 891.0L770.6 891.0L774.4 891.0L778.2 891.0L782.0 891.1L785.8 891.1L789.6 891.1L793.3 891.1L797.1 891.1L800.9 891.1L804.7 891.1L808.5 891.1L812.2 891.1L816.0 891.1L819.8 891.1L823.6 891.1L827.4 891.2L831.2 891.2L834.9 891.2L838.7 891.2L842.5 891.2L846.3 891.2L850.1 891.1L853.8 891.1L857.6 891.0L861.4 890.9L865.2 890.7L869.0 890.5L872.8 890.2L876.5 889.8L880.3 889.3L884.1 888.8L887.9 888.2L891.7 887.5L895.4 886.8L899.2 886.2L903.0 885.6L906.8 885.1L910.6 884.8L914.4 884.7L918.1 884.8L921.9 885.0L925.7 885.4L929.5 886.0L933.3 886.7L937.0 887.4L940.8 888.1L944.6 888.8L948.4 889.5L952.2 890.0L956.0 890.5L959.7 890.9L963.5 891.2L967.3 891.4L971.1 891.6L974.9 891.8L978.7 891.9L982.4 891.9L986.2 892.0L990.0 892.0L993.8 892.1L997.6 892.1L1001.3 892.1L1005.1 892.2L1008.9 892.2L1012.7 892.2L1016.5 892.2L1020.3 892.2L1024.0 892.3L1027.8 892.3L1031.6 892.3L1035.4 892.4L1039.2 892.5L1042.9 892.7L1046.7 892.9L1050.5 893.2L1054.3 893.5L1058.1 893.7L1061.9 894.0L1065.6 894.3L1069.4 894.5L1073.2 894.8L1077.0 895.2L1080.8 895.5L1084.5 895.9L1088.3 896.3L1092.1 896.6L1095.9 897.0L1099.7 897.3L1103.5 897.5L1107.2 897.7L1111.0 897.9L1114.8 898.0L1118.6 898.2L1122.4 898.3L1126.2 898.4L1129.9 898.5L1133.7 898.6L1137.5 898.7L1141.3 898.8L1145.1 898.9L1148.8 899.0L1152.6 899.0L1156.4 899.1L1160.2 899.1L1164.0 899.1L1167.8 899.2L1171.5 899.2L1175.3 899.2L1179.1 899.2L1182.9 899.2L1186.7 899.3L1190.4 899.3L1194.2 899.3L1198.0 899.3L1201.8 899.3L1205.6 899.3L1209.4 899.3L1213.1 899.3L1216.9 899.3L1220.7 899.4L1224.5 899.4L1228.3 899.4L1232.0 899.4L1235.8 899.4L1239.6 899.4L1243.4 899.4L1247.2 899.4L1251.0 899.4L1254.7 899.4L1257.9 899.4" stroke="#4DBEEE" stroke-opacity="0.5" stroke-width="1.35" fill="none" stroke-linejoin="round"/>
<path d="M728.4 891.0L729.0 891.0L732.8 891.0L736.6 891.0L740.4 891.0L744.2 891.0L747.9 891.0L751.7 891.0L755.5 891.0L759.3 891.0L763.1 891.0L766.9 891.0L770.6 891.0L774.4 891.0L778.2 891.0L782.0 891.1L785.8 891.1L789.6 891.1L793.3 891.1L797.1 891.1L800.9 891.1L804.7 891.1L808.5 891.1L812.2 891.1L816.0 891.1L819.8 891.1L823.6 891.1L827.4 891.2L831.2 891.2L834.9 891.2L838.7 891.2L842.5 891.2L846.3 891.2L850.1 891.2L853.8 891.2L857.6 891.3L861.4 891.3L865.2 891.3L869.0 891.3L872.8 891.3L876.5 891.3L880.3 891.3L884.1 891.3L887.9 891.4L891.7 891.4L895.4 891.4L899.2 891.4L903.0 891.4L906.8 891.4L910.6 891.4L914.4 891.4L918.1 891.3L921.9 891.3L925.7 891.2L929.5 891.0L933.3 890.8L937.0 890.5L940.8 890.2L944.6 889.7L948.4 889.1L952.2 888.4L956.0 887.6L959.7 886.7L963.5 885.8L967.3 884.7L971.1 883.7L974.9 882.6L978.7 881.7L982.4 880.9L986.2 880.3L990.0 879.9L993.8 879.7L997.6 879.8L1001.3 880.1L1005.1 880.7L1008.9 881.4L1012.7 882.4L1016.5 883.4L1020.3 884.5L1024.0 885.6L1027.8 886.6L1031.6 887.7L1035.4 888.6L1039.2 889.6L1042.9 890.4L1046.7 891.2L1050.5 891.9L1054.3 892.5L1058.1 893.0L1061.9 893.5L1065.6 893.9L1069.4 894.3L1073.2 894.7L1077.0 895.1L1080.8 895.5L1084.5 895.9L1088.3 896.3L1092.1 896.6L1095.9 897.0L1099.7 897.3L1103.5 897.5L1107.2 897.7L1111.0 897.9L1114.8 898.0L1118.6 898.2L1122.4 898.3L1126.2 898.4L1129.9 898.5L1133.7 898.6L1137.5 898.7L1141.3 898.8L1145.1 898.9L1148.8 899.0L1152.6 899.0L1156.4 899.1L1160.2 899.1L1164.0 899.1L1167.8 899.2L1171.5 899.2L1175.3 899.2L1179.1 899.2L1182.9 899.2L1186.7 899.3L1190.4 899.3L1194.2 899.3L1198.0 899.3L1201.8 899.3L1205.6 899.3L1209.4 899.3L1213.1 899.3L1216.9 899.3L1220.7 899.4L1224.5 899.4L1228.3 899.4L1232.0 899.4L1235.8 899.4L1239.6 899.4L1243.4 899.4L1247.2 899.4L1251.0 899.4L1254.7 899.4L1257.9 899.4" stroke="#77AC30" stroke-opacity="0.5" stroke-width="1.35" fill="none" stroke-linejoin="round"/>
<path d="M728.4 891.0L729.0 891.0L732.8 891.0L736.6 891.0L740.4 891.0L744.2 891.0L747.9 891.0L751.7 891.0L755.5 891.0L759.3 891.0L763.1 891.0L766.9 891.0L770.6 891.0L774.4 891.0L778.2 891.0L782.0 891.0L785.8 891.0L789.6 891.0L793.3 891.0L797.1 891.0L800.9 891.0L804.7 891.1L808.5 891.1L812.2 891.1L816.0 891.1L819.8 891.1L823.6 891.1L827.4 891.1L831.2 891.1L834.9 891.1L838.7 891.1L842.5 891.1L846.3 891.2L850.1 891.2L853.8 891.2L857.6 891.2L861.4 891.2L865.2 891.2L869.0 891.2L872.8 891.2L876.5 891.2L880.3 891.2L884.1 891.2L887.9 891.3L891.7 891.3L895.4 891.3L899.2 891.3L903.0 891.3L906.8 891.3L910.6 891.3L914.4 891.3L918.1 891.3L921.9 891.4L925.7 891.4L929.5 891.4L933.3 891.4L937.0 891.4L940.8 891.4L944.6 891.4L948.4 891.5L952.2 891.5L956.0 891.5L959.7 891.4L963.5 891.4L967.3 891.4L971.1 891.3L974.9 891.2L978.7 891.0L982.4 890.7L986.2 890.3L990.0 889.8L993.8 889.1L997.6 888.2L1001.3 887.1L1005.1 885.7L1008.9 884.2L1012.7 882.5L1016.5 880.6L1020.3 878.6L1024.0 876.7L1027.8 874.9L1031.6 873.3L1035.4 872.2L1039.2 871.6L1042.9 871.6L1046.7 872.3L1050.5 873.4L1054.3 875.0L1058.1 877.0L1061.9 879.2L1065.6 881.4L1069.4 883.6L1073.2 885.8L1077.0 887.8L1080.8 889.7L1084.5 891.3L1088.3 892.7L1092.1 893.9L1095.9 894.9L1099.7 895.7L1103.5 896.3L1107.2 896.8L1111.0 897.2L1114.8 897.5L1118.6 897.7L1122.4 897.9L1126.2 898.1L1129.9 898.2L1133.7 898.3L1137.5 898.5L1141.3 898.6L1145.1 898.7L1148.8 898.8L1152.6 898.8L1156.4 898.9L1160.2 898.9L1164.0 899.0L1167.8 899.0L1171.5 899.0L1175.3 899.1L1179.1 899.1L1182.9 899.1L1186.7 899.1L1190.4 899.2L1194.2 899.2L1198.0 899.2L1201.8 899.2L1205.6 899.2L1209.4 899.2L1213.1 899.3L1216.9 899.3L1220.7 899.3L1224.5 899.3L1228.3 899.3L1232.0 899.3L1235.8 899.3L1239.6 899.3L1243.4 899.3L1247.2 899.3L1251.0 899.3L1254.7 899.3L1257.9 899.3" stroke="#7E2F8E" stroke-opacity="0.45" stroke-width="1.35" fill="none" stroke-linejoin="round"/>
<path d="M728.4 891.0L729.0 891.0L732.8 891.0L736.6 891.0L740.4 891.0L744.2 891.0L747.9 891.0L751.7 891.0L755.5 891.0L759.3 891.0L763.1 891.0L766.9 891.0L770.6 891.0L774.4 891.0L778.2 891.0L782.0 891.1L785.8 891.1L789.6 891.1L793.3 891.1L797.1 891.1L800.9 891.1L804.7 891.1L808.5 891.1L812.2 891.1L816.0 891.1L819.8 891.1L823.6 891.1L827.4 891.2L831.2 891.2L834.9 891.2L838.7 891.2L842.5 891.2L846.3 891.2L850.1 891.2L853.8 891.2L857.6 891.3L861.4 891.3L865.2 891.3L869.0 891.3L872.8 891.3L876.5 891.3L880.3 891.3L884.1 891.3L887.9 891.4L891.7 891.4L895.4 891.4L899.2 891.4L903.0 891.4L906.8 891.4L910.6 891.4L914.4 891.5L918.1 891.5L921.9 891.5L925.7 891.5L929.5 891.6L933.3 891.6L937.0 891.6L940.8 891.7L944.6 891.7L948.4 891.7L952.2 891.7L956.0 891.8L959.7 891.8L963.5 891.8L967.3 891.9L971.1 891.9L974.9 891.9L978.7 892.0L982.4 892.0L986.2 892.0L990.0 892.0L993.8 892.0L997.6 891.9L1001.3 891.7L1005.1 891.4L1008.9 891.0L1012.7 890.2L1016.5 889.1L1020.3 887.6L1024.0 885.4L1027.8 882.6L1031.6 879.0L1035.4 874.7L1039.2 869.8L1042.9 864.4L1046.7 858.8L1050.5 853.3L1054.3 848.3L1058.1 844.3L1061.9 841.5L1065.6 840.3L1069.4 840.8L1073.2 843.1L1077.0 846.8L1080.8 851.8L1084.5 857.6L1088.3 863.8L1092.1 870.0L1095.9 875.8L1099.7 880.9L1103.5 885.3L1107.2 888.9L1111.0 891.7L1114.8 893.8L1118.6 895.4L1122.4 896.5L1126.2 897.3L1129.9 897.9L1133.7 898.3L1137.5 898.5L1141.3 898.7L1145.1 898.9L1148.8 899.0L1152.6 899.0L1156.4 899.1L1160.2 899.1L1164.0 899.1L1167.8 899.2L1171.5 899.2L1175.3 899.2L1179.1 899.2L1182.9 899.2L1186.7 899.3L1190.4 899.3L1194.2 899.3L1198.0 899.3L1201.8 899.3L1205.6 899.3L1209.4 899.3L1213.1 899.3L1216.9 899.3L1220.7 899.4L1224.5 899.4L1228.3 899.4L1232.0 899.4L1235.8 899.4L1239.6 899.4L1243.4 899.4L1247.2 899.4L1251.0 899.4L1254.7 899.4L1257.9 899.4" stroke="#D95319" stroke-opacity="0.48" stroke-width="1.35" fill="none" stroke-linejoin="round"/>
<path d="M728.4 891.0L729.0 891.0L732.8 891.0L736.6 891.0L740.4 891.0L744.2 891.0L747.9 891.0L751.7 891.0L755.5 891.0L759.3 891.0L763.1 891.0L766.9 891.0L770.6 891.0L774.4 891.0L778.2 891.0L782.0 891.0L785.8 891.0L789.6 891.0L793.3 891.0L797.1 891.0L800.9 891.0L804.7 891.0L808.5 891.1L812.2 891.1L816.0 891.1L819.8 891.1L823.6 891.1L827.4 891.1L831.2 891.1L834.9 891.1L838.7 891.1L842.5 891.1L846.3 891.1L850.1 891.2L853.8 891.2L857.6 891.2L861.4 891.2L865.2 891.2L869.0 891.2L872.8 891.2L876.5 891.2L880.3 891.2L884.1 891.2L887.9 891.3L891.7 891.3L895.4 891.3L899.2 891.3L903.0 891.3L906.8 891.3L910.6 891.3L914.4 891.3L918.1 891.3L921.9 891.4L925.7 891.4L929.5 891.4L933.3 891.4L937.0 891.4L940.8 891.5L944.6 891.5L948.4 891.5L952.2 891.5L956.0 891.5L959.7 891.6L963.5 891.6L967.3 891.6L971.1 891.6L974.9 891.6L978.7 891.6L982.4 891.6L986.2 891.6L990.0 891.6L993.8 891.6L997.6 891.6L1001.3 891.6L1005.1 891.6L1008.9 891.5L1012.7 891.5L1016.5 891.4L1020.3 891.3L1024.0 891.2L1027.8 891.1L1031.6 891.0L1035.4 890.9L1039.2 890.7L1042.9 890.3L1046.7 889.3L1050.5 887.3L1054.3 883.3L1058.1 875.9L1061.9 863.6L1065.6 845.3L1069.4 821.3L1073.2 793.8L1077.0 767.2L1080.8 747.5L1084.5 740.3L1088.3 748.1L1092.1 768.5L1095.9 795.7L1099.7 823.9L1103.5 848.4L1107.2 867.2L1111.0 879.9L1114.8 887.8L1118.6 892.3L1122.4 894.7L1126.2 895.9L1129.9 896.6L1133.7 897.1L1137.5 897.4L1141.3 897.7L1145.1 897.9L1148.8 898.1L1152.6 898.2L1156.4 898.3L1160.2 898.4L1164.0 898.5L1167.8 898.6L1171.5 898.7L1175.3 898.7L1179.1 898.8L1182.9 898.8L1186.7 898.9L1190.4 898.9L1194.2 899.0L1198.0 899.0L1201.8 899.0L1205.6 899.1L1209.4 899.1L1213.1 899.1L1216.9 899.1L1220.7 899.1L1224.5 899.2L1228.3 899.2L1232.0 899.2L1235.8 899.2L1239.6 899.2L1243.4 899.2L1247.2 899.2L1251.0 899.3L1254.7 899.3L1257.9 899.3" stroke="#EDB120" stroke-opacity="0.47" stroke-width="1.35" fill="none" stroke-linejoin="round"/>
<path d="M728.4 891.0L729.0 891.0L732.8 891.0L736.6 891.0L740.4 891.0L744.2 891.0L747.9 891.0L751.7 891.0L755.5 891.0L759.3 891.0L763.1 891.0L766.9 891.0L770.6 891.0L774.4 891.0L778.2 891.0L782.0 891.1L785.8 891.1L789.6 891.1L793.3 891.1L797.1 891.1L800.9 891.1L804.7 891.1L808.5 891.1L812.2 891.1L816.0 891.1L819.8 891.1L823.6 891.1L827.4 891.2L831.2 891.2L834.9 891.2L838.7 891.2L842.5 891.2L846.3 891.2L850.1 891.2L853.8 891.2L857.6 891.3L861.4 891.3L865.2 891.3L869.0 891.3L872.8 891.3L876.5 891.3L880.3 891.3L884.1 891.3L887.9 891.4L891.7 891.4L895.4 891.4L899.2 891.4L903.0 891.4L906.8 891.4L910.6 891.4L914.4 891.5L918.1 891.5L921.9 891.5L925.7 891.5L929.5 891.6L933.3 891.6L937.0 891.6L940.8 891.7L944.6 891.7L948.4 891.7L952.2 891.7L956.0 891.8L959.7 891.8L963.5 891.8L967.3 891.9L971.1 891.9L974.9 891.9L978.7 892.0L982.4 892.0L986.2 892.0L990.0 892.1L993.8 892.1L997.6 892.1L1001.3 892.1L1005.1 892.2L1008.9 892.2L1012.7 892.2L1016.5 892.2L1020.3 892.2L1024.0 892.3L1027.8 892.3L1031.6 892.3L1035.4 892.4L1039.2 892.5L1042.9 892.7L1046.7 892.9L1050.5 893.2L1054.3 893.5L1058.1 893.7L1061.9 894.0L1065.6 894.3L1069.4 894.5L1073.2 894.8L1077.0 895.2L1080.8 895.5L1084.5 895.9L1088.3 896.3L1092.1 896.6L1095.9 897.0L1099.7 897.3L1103.5 897.5L1107.2 897.7L1111.0 897.9L1114.8 898.0L1118.6 898.2L1122.4 898.3L1126.2 898.4L1129.9 898.5L1133.7 898.6L1137.5 898.7L1141.3 898.8L1145.1 898.9L1148.8 899.0L1152.6 899.0L1156.4 899.1L1160.2 899.1L1164.0 899.1L1167.8 899.2L1171.5 899.2L1175.3 899.2L1179.1 899.2L1182.9 899.2L1186.7 899.3L1190.4 899.3L1194.2 899.3L1198.0 899.3L1201.8 899.3L1205.6 899.3L1209.4 899.3L1213.1 899.3L1216.9 899.3L1220.7 899.4L1224.5 899.4L1228.3 899.4L1232.0 899.4L1235.8 899.4L1239.6 899.4L1243.4 899.4L1247.2 899.4L1251.0 899.4L1254.7 899.4L1257.9 899.4" stroke="#0072BD" stroke-opacity="0.62" stroke-width="1.8" fill="none" stroke-linejoin="round"/>
<path d="M728.4 890.0L729.0 889.9L732.8 889.8L736.6 889.7L740.4 889.6L744.2 889.5L747.9 889.4L751.7 889.3L755.5 889.1L759.3 889.0L763.1 888.9L766.9 888.8L770.6 888.6L774.4 888.5L778.2 888.4L782.0 888.2L785.8 888.1L789.6 888.0L793.3 887.9L797.1 887.8L800.9 887.7L804.7 887.6L808.5 887.5L812.2 887.4L816.0 887.4L819.8 887.3L823.6 887.3L827.4 887.3L831.2 887.2L834.9 887.2L838.7 887.2L842.5 887.3L846.3 887.3L850.1 887.3L853.8 887.3L857.6 887.3L861.4 887.2L865.2 887.2L869.0 887.0L872.8 886.8L876.5 886.5L880.3 886.2L884.1 885.7L887.9 885.2L891.7 884.7L895.4 884.1L899.2 883.6L903.0 883.1L906.8 882.8L910.6 882.5L914.4 882.5L918.1 882.6L921.9 882.9L925.7 883.3L929.5 883.8L933.3 884.3L937.0 884.8L940.8 885.2L944.6 885.5L948.4 885.6L952.2 885.4L956.0 885.1L959.7 884.6L963.5 883.9L967.3 883.0L971.1 882.0L974.9 881.0L978.7 879.9L982.4 878.8L986.2 877.8L990.0 876.8L993.8 875.9L997.6 874.9L1001.3 873.9L1005.1 872.8L1008.9 871.4L1012.7 869.8L1016.5 867.7L1020.3 865.2L1024.0 862.0L1027.8 858.3L1031.6 854.0L1035.4 849.2L1039.2 844.0L1042.9 838.5L1046.7 832.7L1050.5 826.3L1054.3 818.8L1058.1 809.0L1061.9 795.7L1065.6 778.1L1069.4 756.4L1073.2 732.8L1077.0 711.4L1080.8 697.8L1084.5 697.4L1088.3 712.1L1092.1 739.1L1095.9 772.5L1099.7 806.0L1103.5 835.0L1107.2 857.4L1111.0 873.1L1114.8 883.1L1118.6 889.1L1122.4 892.5L1126.2 894.5L1129.9 895.7L1133.7 896.4L1137.5 896.9L1141.3 897.3L1145.1 897.6L1148.8 897.8L1152.6 898.0L1156.4 898.1L1160.2 898.3L1164.0 898.4L1167.8 898.5L1171.5 898.5L1175.3 898.6L1179.1 898.7L1182.9 898.7L1186.7 898.8L1190.4 898.8L1194.2 898.9L1198.0 898.9L1201.8 898.9L1205.6 899.0L1209.4 899.0L1213.1 899.0L1216.9 899.0L1220.7 899.1L1224.5 899.1L1228.3 899.1L1232.0 899.1L1235.8 899.1L1239.6 899.2L1243.4 899.2L1247.2 899.2L1251.0 899.2L1254.7 899.2L1257.9 899.2" stroke="#DE4A3E" stroke-opacity="0.5" stroke-width="1.6" fill="none" stroke-linejoin="round"/>
<text x="744.40" y="530.20" font-size="28" fill="#111" stroke="#111" stroke-width="0.3">C s, UV 40min</text><path transform="translate(764.62,530.20) scale(0.013672,-0.013672)" d="M515 0L515 1220L235 1025L235 1185L530 1409L696 1409L696 0Z" fill="#111" stroke="#111" stroke-width="21.9"/>
<text x="1117.00" y="753.00" font-size="26" fill="#222" text-anchor="start" stroke="#222" stroke-width="0.3">C-C sp2</text>
<path d="M1107.8 744.8L1089.1 744.8" stroke="#8a8a8a" stroke-width="1.6" fill="none"/><path d="M1092.5 738.8Q1090.2 742.1 1088.3 744.8Q1090.2 747.5 1092.5 750.8" stroke="#3c3c3c" stroke-width="1.3" fill="none" stroke-linecap="round" stroke-linejoin="round"/>
<text x="1113.00" y="851.00" font-size="26" fill="#222" text-anchor="start" stroke="#222" stroke-width="0.3">C-C sp3</text>
<path d="M1097.0 844.3L1077.0 844.3" stroke="#8a8a8a" stroke-width="1.6" fill="none"/><path d="M1080.4 838.3Q1078.1 841.6 1076.2 844.3Q1078.1 847.0 1080.4 850.3" stroke="#3c3c3c" stroke-width="1.3" fill="none" stroke-linecap="round" stroke-linejoin="round"/>
<text x="1087.30" y="883.10" font-size="25.5" fill="#222" text-anchor="start" stroke="#222" stroke-width="0.3">C-OH</text>
<path d="M1077.3 876.8L1058.0 876.8" stroke="#8a8a8a" stroke-width="1.6" fill="none"/><path d="M1061.4 870.8Q1059.1 874.1 1057.2 876.8Q1059.1 879.5 1061.4 882.8" stroke="#3c3c3c" stroke-width="1.3" fill="none" stroke-linecap="round" stroke-linejoin="round"/>
<text x="990.70" y="841.00" font-size="25.5" fill="#222" text-anchor="start" stroke="#222" stroke-width="0.3">C-O-C</text>
<path d="M997.2 856.3L997.2 874.4" stroke="#8a8a8a" stroke-width="1.6" fill="none"/><path d="M991.2 871.0Q994.5 873.3 997.2 875.2Q999.9 873.3 1003.2 871.0" stroke="#3c3c3c" stroke-width="1.3" fill="none" stroke-linecap="round" stroke-linejoin="round"/>
<text x="914.60" y="811.25" font-size="26" fill="#222" text-anchor="start" stroke="#222" stroke-width="0.3">&gt;C=O</text>
<text x="812.30" y="848.75" font-size="26" fill="#222" text-anchor="start" stroke="#222" stroke-width="0.3">O=C-OH</text>
<path d="M921.6 826.9L921.6 847.2" stroke="#8a8a8a" stroke-width="1.6" fill="none"/><path d="M915.6 843.8Q918.9 846.1 921.6 848.0Q924.3 846.1 927.6 843.8" stroke="#3c3c3c" stroke-width="1.3" fill="none" stroke-linecap="round" stroke-linejoin="round"/>
<path d="M818.8 865.2L818.8 884.7" stroke="#8a8a8a" stroke-width="1.6" fill="none"/><path d="M812.8 881.3Q816.0 883.6 818.8 885.5Q821.5 883.6 824.8 881.3" stroke="#3c3c3c" stroke-width="1.3" fill="none" stroke-linecap="round" stroke-linejoin="round"/>
<path d="M921.6 859.7L921.6 880.8" stroke="#8a8a8a" stroke-width="1.6" fill="none"/><path d="M915.6 877.4Q918.9 879.7 921.6 881.6Q924.3 879.7 927.6 877.4" stroke="#3c3c3c" stroke-width="1.3" fill="none" stroke-linecap="round" stroke-linejoin="round"/>
<path d="M121.50 408.40h5M618.20 408.40h-5M121.50 342.35h5M618.20 342.35h-5M121.50 276.30h5M618.20 276.30h-5M121.50 210.25h5M618.20 210.25h-5M121.50 144.20h5M618.20 144.20h-5M121.50 78.15h5M618.20 78.15h-5M121.50 12.10h5M618.20 12.10h-5M121.50 408.40v-5M121.50 12.10v5M211.81 408.40v-5M211.81 12.10v5M302.12 408.40v-5M302.12 12.10v5M392.43 408.40v-5M392.43 12.10v5M482.74 408.40v-5M482.74 12.10v5M573.05 408.40v-5M573.05 12.10v5" stroke="#9a9a9a" stroke-width="1.1" fill="none"/>
<rect x="121.5" y="12.1" width="496.70" height="396.30" fill="none" stroke="#8e8e8e" stroke-width="1.8"/>
<text x="111.00" y="419.40" font-size="25" fill="#404040" text-anchor="end" stroke="#404040" stroke-width="0.3">5000</text>
<text x="111.00" y="353.35" font-size="25" fill="#404040" text-anchor="end" stroke="#404040" stroke-width="0.3">6000</text>
<text x="111.00" y="287.30" font-size="25" fill="#404040" text-anchor="end" stroke="#404040" stroke-width="0.3">7000</text>
<text x="111.00" y="221.25" font-size="25" fill="#404040" text-anchor="end" stroke="#404040" stroke-width="0.3">8000</text>
<text x="111.00" y="155.20" font-size="25" fill="#404040" text-anchor="end" stroke="#404040" stroke-width="0.3">9000</text>
<text x="41.48" y="89.15" font-size="25" fill="#404040" stroke="#404040" stroke-width="0.3"> 0000</text><path transform="translate(41.48,89.15) scale(0.012207,-0.012207)" d="M515 0L515 1220L235 1025L235 1185L530 1409L696 1409L696 0Z" fill="#404040" stroke="#404040" stroke-width="24.6"/>
<text x="41.48" y="23.10" font-size="25" fill="#404040" stroke="#404040" stroke-width="0.3">  000</text><path transform="translate(41.48,23.10) scale(0.012207,-0.012207)" d="M515 0L515 1220L235 1025L235 1185L530 1409L696 1409L696 0Z" fill="#404040" stroke="#404040" stroke-width="24.6"/><path transform="translate(55.38,23.10) scale(0.012207,-0.012207)" d="M515 0L515 1220L235 1025L235 1185L530 1409L696 1409L696 0Z" fill="#404040" stroke="#404040" stroke-width="24.6"/>
<text x="120.70" y="444.90" font-size="25" fill="#404040" text-anchor="middle" stroke="#404040" stroke-width="0.3">538</text>
<text x="211.01" y="444.90" font-size="25" fill="#404040" text-anchor="middle" stroke="#404040" stroke-width="0.3">536</text>
<text x="301.32" y="444.90" font-size="25" fill="#404040" text-anchor="middle" stroke="#404040" stroke-width="0.3">534</text>
<text x="391.63" y="444.90" font-size="25" fill="#404040" text-anchor="middle" stroke="#404040" stroke-width="0.3">532</text>
<text x="481.94" y="444.90" font-size="25" fill="#404040" text-anchor="middle" stroke="#404040" stroke-width="0.3">530</text>
<text x="572.25" y="444.90" font-size="25" fill="#404040" text-anchor="middle" stroke="#404040" stroke-width="0.3">528</text>
<text x="368.15" y="480.40" text-anchor="middle" font-size="28" letter-spacing="0.4" word-spacing="-2.6" fill="#333" stroke="#333" stroke-width="0.3">Binding Energy / eV</text>
<text transform="translate(29.70,210.25) rotate(-90)" text-anchor="middle" font-size="28" fill="#333" stroke="#333" stroke-width="0.3">Counts</text>
<path d="M763.30 408.40h5M1260.10 408.40h-5M763.30 342.37h5M1260.10 342.37h-5M763.30 276.33h5M1260.10 276.33h-5M763.30 210.30h5M1260.10 210.30h-5M763.30 144.27h5M1260.10 144.27h-5M763.30 78.23h5M1260.10 78.23h-5M763.30 12.20h5M1260.10 12.20h-5M763.30 408.40v-5M763.30 12.20v5M853.63 408.40v-5M853.63 12.20v5M943.95 408.40v-5M943.95 12.20v5M1034.28 408.40v-5M1034.28 12.20v5M1124.61 408.40v-5M1124.61 12.20v5M1214.94 408.40v-5M1214.94 12.20v5" stroke="#9a9a9a" stroke-width="1.1" fill="none"/>
<rect x="763.3" y="12.2" width="496.80" height="396.20" fill="none" stroke="#8e8e8e" stroke-width="1.8"/>
<text x="752.80" y="419.40" font-size="25" fill="#404040" text-anchor="end" stroke="#404040" stroke-width="0.3">5000</text>
<text x="752.80" y="353.37" font-size="25" fill="#404040" text-anchor="end" stroke="#404040" stroke-width="0.3">6000</text>
<text x="752.80" y="287.33" font-size="25" fill="#404040" text-anchor="end" stroke="#404040" stroke-width="0.3">7000</text>
<text x="752.80" y="221.30" font-size="25" fill="#404040" text-anchor="end" stroke="#404040" stroke-width="0.3">8000</text>
<text x="752.80" y="155.27" font-size="25" fill="#404040" text-anchor="end" stroke="#404040" stroke-width="0.3">9000</text>
<text x="683.28" y="89.23" font-size="25" fill="#404040" stroke="#404040" stroke-width="0.3"> 0000</text><path transform="translate(683.28,89.23) scale(0.012207,-0.012207)" d="M515 0L515 1220L235 1025L235 1185L530 1409L696 1409L696 0Z" fill="#404040" stroke="#404040" stroke-width="24.6"/>
<text x="683.28" y="23.20" font-size="25" fill="#404040" stroke="#404040" stroke-width="0.3">  000</text><path transform="translate(683.28,23.20) scale(0.012207,-0.012207)" d="M515 0L515 1220L235 1025L235 1185L530 1409L696 1409L696 0Z" fill="#404040" stroke="#404040" stroke-width="24.6"/><path transform="translate(697.18,23.20) scale(0.012207,-0.012207)" d="M515 0L515 1220L235 1025L235 1185L530 1409L696 1409L696 0Z" fill="#404040" stroke="#404040" stroke-width="24.6"/>
<text x="762.50" y="444.90" font-size="25" fill="#404040" text-anchor="middle" stroke="#404040" stroke-width="0.3">538</text>
<text x="852.83" y="444.90" font-size="25" fill="#404040" text-anchor="middle" stroke="#404040" stroke-width="0.3">536</text>
<text x="943.15" y="444.90" font-size="25" fill="#404040" text-anchor="middle" stroke="#404040" stroke-width="0.3">534</text>
<text x="1033.48" y="444.90" font-size="25" fill="#404040" text-anchor="middle" stroke="#404040" stroke-width="0.3">532</text>
<text x="1123.81" y="444.90" font-size="25" fill="#404040" text-anchor="middle" stroke="#404040" stroke-width="0.3">530</text>
<text x="1214.14" y="444.90" font-size="25" fill="#404040" text-anchor="middle" stroke="#404040" stroke-width="0.3">528</text>
<text x="1010.00" y="480.40" text-anchor="middle" font-size="28" letter-spacing="0.4" word-spacing="-2.6" fill="#333" stroke="#333" stroke-width="0.3">Binding Energy / eV</text>
<text transform="translate(669.70,210.30) rotate(-90)" text-anchor="middle" font-size="28" fill="#333" stroke="#333" stroke-width="0.3">Counts</text>
<path d="M87.60 900.50h5M617.20 900.50h-5M87.60 844.23h5M617.20 844.23h-5M87.60 787.96h5M617.20 787.96h-5M87.60 731.69h5M617.20 731.69h-5M87.60 675.41h5M617.20 675.41h-5M87.60 619.14h5M617.20 619.14h-5M87.60 562.87h5M617.20 562.87h-5M87.60 506.60h5M617.20 506.60h-5M87.60 900.50v-5M87.60 506.60v5M163.26 900.50v-5M163.26 506.60v5M238.91 900.50v-5M238.91 506.60v5M314.57 900.50v-5M314.57 506.60v5M390.23 900.50v-5M390.23 506.60v5M465.89 900.50v-5M465.89 506.60v5M541.54 900.50v-5M541.54 506.60v5M617.20 900.50v-5M617.20 506.60v5" stroke="#9a9a9a" stroke-width="1.1" fill="none"/>
<rect x="87.6" y="506.6" width="529.60" height="393.90" fill="none" stroke="#8e8e8e" stroke-width="1.8"/>
<text x="77.10" y="911.50" font-size="25" fill="#404040" text-anchor="end" stroke="#404040" stroke-width="0.3">0</text>
<text x="77.10" y="855.23" font-size="25" fill="#404040" text-anchor="end" stroke="#404040" stroke-width="0.3">2</text>
<text x="77.10" y="798.96" font-size="25" fill="#404040" text-anchor="end" stroke="#404040" stroke-width="0.3">4</text>
<text x="77.10" y="742.69" font-size="25" fill="#404040" text-anchor="end" stroke="#404040" stroke-width="0.3">6</text>
<text x="77.10" y="686.41" font-size="25" fill="#404040" text-anchor="end" stroke="#404040" stroke-width="0.3">8</text>
<text x="49.29" y="630.14" font-size="25" fill="#404040" stroke="#404040" stroke-width="0.3"> 0</text><path transform="translate(49.29,630.14) scale(0.012207,-0.012207)" d="M515 0L515 1220L235 1025L235 1185L530 1409L696 1409L696 0Z" fill="#404040" stroke="#404040" stroke-width="24.6"/>
<text x="49.29" y="573.87" font-size="25" fill="#404040" stroke="#404040" stroke-width="0.3"> 2</text><path transform="translate(49.29,573.87) scale(0.012207,-0.012207)" d="M515 0L515 1220L235 1025L235 1185L530 1409L696 1409L696 0Z" fill="#404040" stroke="#404040" stroke-width="24.6"/>
<text x="49.29" y="517.60" font-size="25" fill="#404040" stroke="#404040" stroke-width="0.3"> 4</text><path transform="translate(49.29,517.60) scale(0.012207,-0.012207)" d="M515 0L515 1220L235 1025L235 1185L530 1409L696 1409L696 0Z" fill="#404040" stroke="#404040" stroke-width="24.6"/>
<text x="86.80" y="937.00" font-size="25" fill="#404040" text-anchor="middle" stroke="#404040" stroke-width="0.3">294</text>
<text x="162.46" y="937.00" font-size="25" fill="#404040" text-anchor="middle" stroke="#404040" stroke-width="0.3">292</text>
<text x="238.11" y="937.00" font-size="25" fill="#404040" text-anchor="middle" stroke="#404040" stroke-width="0.3">290</text>
<text x="313.77" y="937.00" font-size="25" fill="#404040" text-anchor="middle" stroke="#404040" stroke-width="0.3">288</text>
<text x="389.43" y="937.00" font-size="25" fill="#404040" text-anchor="middle" stroke="#404040" stroke-width="0.3">286</text>
<text x="465.09" y="937.00" font-size="25" fill="#404040" text-anchor="middle" stroke="#404040" stroke-width="0.3">284</text>
<text x="540.74" y="937.00" font-size="25" fill="#404040" text-anchor="middle" stroke="#404040" stroke-width="0.3">282</text>
<text x="616.40" y="937.00" font-size="25" fill="#404040" text-anchor="middle" stroke="#404040" stroke-width="0.3">280</text>
<text x="350.70" y="972.50" text-anchor="middle" font-size="28" letter-spacing="0.4" word-spacing="-2.6" fill="#333" stroke="#333" stroke-width="0.3">Binding Energy / eV</text>
<text transform="translate(36.40,703.55) rotate(-90)" text-anchor="middle" font-size="28" fill="#333" stroke="#333" stroke-width="0.3">Counts</text>
<path d="M728.40 900.00h5M1257.90 900.00h-5M728.40 843.84h5M1257.90 843.84h-5M728.40 787.69h5M1257.90 787.69h-5M728.40 731.53h5M1257.90 731.53h-5M728.40 675.37h5M1257.90 675.37h-5M728.40 619.21h5M1257.90 619.21h-5M728.40 563.06h5M1257.90 563.06h-5M728.40 506.90h5M1257.90 506.90h-5M728.40 900.00v-5M728.40 506.90v5M804.04 900.00v-5M804.04 506.90v5M879.69 900.00v-5M879.69 506.90v5M955.33 900.00v-5M955.33 506.90v5M1030.97 900.00v-5M1030.97 506.90v5M1106.61 900.00v-5M1106.61 506.90v5M1182.26 900.00v-5M1182.26 506.90v5M1257.90 900.00v-5M1257.90 506.90v5" stroke="#9a9a9a" stroke-width="1.1" fill="none"/>
<rect x="728.4" y="506.9" width="529.50" height="393.10" fill="none" stroke="#8e8e8e" stroke-width="1.8"/>
<text x="717.90" y="911.00" font-size="25" fill="#404040" text-anchor="end" stroke="#404040" stroke-width="0.3">0</text>
<text x="717.90" y="854.84" font-size="25" fill="#404040" text-anchor="end" stroke="#404040" stroke-width="0.3">2</text>
<text x="717.90" y="798.69" font-size="25" fill="#404040" text-anchor="end" stroke="#404040" stroke-width="0.3">4</text>
<text x="717.90" y="742.53" font-size="25" fill="#404040" text-anchor="end" stroke="#404040" stroke-width="0.3">6</text>
<text x="717.90" y="686.37" font-size="25" fill="#404040" text-anchor="end" stroke="#404040" stroke-width="0.3">8</text>
<text x="690.09" y="630.21" font-size="25" fill="#404040" stroke="#404040" stroke-width="0.3"> 0</text><path transform="translate(690.09,630.21) scale(0.012207,-0.012207)" d="M515 0L515 1220L235 1025L235 1185L530 1409L696 1409L696 0Z" fill="#404040" stroke="#404040" stroke-width="24.6"/>
<text x="690.09" y="574.06" font-size="25" fill="#404040" stroke="#404040" stroke-width="0.3"> 2</text><path transform="translate(690.09,574.06) scale(0.012207,-0.012207)" d="M515 0L515 1220L235 1025L235 1185L530 1409L696 1409L696 0Z" fill="#404040" stroke="#404040" stroke-width="24.6"/>
<text x="690.09" y="517.90" font-size="25" fill="#404040" stroke="#404040" stroke-width="0.3"> 4</text><path transform="translate(690.09,517.90) scale(0.012207,-0.012207)" d="M515 0L515 1220L235 1025L235 1185L530 1409L696 1409L696 0Z" fill="#404040" stroke="#404040" stroke-width="24.6"/>
<text x="727.60" y="936.50" font-size="25" fill="#404040" text-anchor="middle" stroke="#404040" stroke-width="0.3">294</text>
<text x="803.24" y="936.50" font-size="25" fill="#404040" text-anchor="middle" stroke="#404040" stroke-width="0.3">292</text>
<text x="878.89" y="936.50" font-size="25" fill="#404040" text-anchor="middle" stroke="#404040" stroke-width="0.3">290</text>
<text x="954.53" y="936.50" font-size="25" fill="#404040" text-anchor="middle" stroke="#404040" stroke-width="0.3">288</text>
<text x="1030.17" y="936.50" font-size="25" fill="#404040" text-anchor="middle" stroke="#404040" stroke-width="0.3">286</text>
<text x="1105.81" y="936.50" font-size="25" fill="#404040" text-anchor="middle" stroke="#404040" stroke-width="0.3">284</text>
<text x="1181.46" y="936.50" font-size="25" fill="#404040" text-anchor="middle" stroke="#404040" stroke-width="0.3">282</text>
<text x="1257.10" y="936.50" font-size="25" fill="#404040" text-anchor="middle" stroke="#404040" stroke-width="0.3">280</text>
<text x="991.45" y="972.00" text-anchor="middle" font-size="28" letter-spacing="0.4" word-spacing="-2.6" fill="#333" stroke="#333" stroke-width="0.3">Binding Energy / eV</text>
<text transform="translate(677.00,703.45) rotate(-90)" text-anchor="middle" font-size="28" fill="#333" stroke="#333" stroke-width="0.3">Counts</text>
<path d="M91.5 488.0L103.5 500.5M103.5 488.0L91.5 500.5" stroke="#505050" stroke-width="1.4"/>
<text x="106.90" y="501.20" font-size="25" fill="#404040" stroke="#404040" stroke-width="0.3"> 0</text><path transform="translate(106.90,501.20) scale(0.012207,-0.012207)" d="M515 0L515 1220L235 1025L235 1185L530 1409L696 1409L696 0Z" fill="#404040" stroke="#404040" stroke-width="24.6"/>
<text x="137.30" y="486.60" font-size="19" fill="#404040" text-anchor="start" stroke="#404040" stroke-width="0.3">4</text>
<path d="M732.3 488.3L744.3 500.8M744.3 488.3L732.3 500.8" stroke="#505050" stroke-width="1.4"/>
<text x="747.70" y="501.50" font-size="25" fill="#404040" stroke="#404040" stroke-width="0.3"> 0</text><path transform="translate(747.70,501.50) scale(0.012207,-0.012207)" d="M515 0L515 1220L235 1025L235 1185L530 1409L696 1409L696 0Z" fill="#404040" stroke="#404040" stroke-width="24.6"/>
<text x="778.10" y="486.90" font-size="19" fill="#404040" text-anchor="start" stroke="#404040" stroke-width="0.3">4</text>
<text x="1.5" y="47" font-size="36.5" fill="#111" stroke="#111" stroke-width="0.3">(a)</text>
<text x="636.7" y="47" font-size="36.5" fill="#111" stroke="#111" stroke-width="0.3">(b)</text>
<text x="2.0" y="548" font-size="36.5" fill="#111" stroke="#111" stroke-width="0.3">(c)</text>
<text x="636.4" y="548" font-size="36.5" fill="#111" stroke="#111" stroke-width="0.3">(d)</text>
</svg></body></html>
